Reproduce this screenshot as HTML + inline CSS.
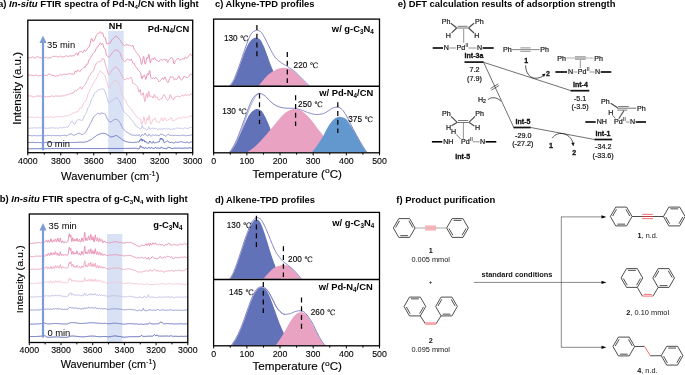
<!DOCTYPE html>
<html lang="en">
<head>
<meta charset="utf-8">
<title>Figure: FTIR spectra, TPD profiles, DFT results and product purification</title>
<style>
html,body{margin:0;padding:0;background:#fff;}
body{width:685px;height:375px;overflow:hidden;}
svg{display:block;font-family:'Liberation Sans', 'Noto Serif CJK SC', sans-serif;}
</style>
</head>
<body>
<svg width="685" height="375" viewBox="0 0 685 375">
<defs>
<clipPath id="clipA"><rect x="27.8" y="20.2" width="164.90" height="132.50"/></clipPath>
<clipPath id="clipB"><rect x="29.3" y="214.0" width="158.50" height="128.50"/></clipPath>
</defs>
<rect x="0" y="0" width="685" height="375" fill="#fff"/>
<rect x="108.2" y="30.9" width="15.50" height="121.30" fill="#d9e2f4"/>
<g clip-path="url(#clipA)">
<path d="M27.80,148.81 L28.30,148.81 L28.80,148.81 L29.30,148.79 L29.80,148.75 L30.30,148.71 L30.80,148.71 L31.30,148.71 L31.80,148.71 L32.30,148.70 L32.80,148.69 L33.30,148.71 L33.80,148.74 L34.30,148.74 L34.80,148.73 L35.30,148.71 L35.80,148.73 L36.30,148.75 L36.80,148.73 L37.30,148.66 L37.80,148.59 L38.30,148.66 L38.80,148.74 L39.30,148.75 L39.80,148.71 L40.30,148.66 L40.80,148.67 L41.30,148.69 L41.80,148.68 L42.30,148.66 L42.80,148.64 L43.30,148.63 L43.80,148.62 L44.30,148.62 L44.80,148.64 L45.30,148.66 L45.80,148.67 L46.30,148.68 L46.80,148.67 L47.30,148.64 L47.80,148.62 L48.30,148.62 L48.80,148.62 L49.30,148.63 L49.80,148.65 L50.30,148.67 L50.80,148.63 L51.30,148.59 L51.80,148.56 L52.30,148.53 L52.80,148.51 L53.30,148.56 L53.80,148.60 L54.30,148.61 L54.80,148.59 L55.30,148.56 L55.80,148.54 L56.30,148.51 L56.80,148.51 L57.30,148.54 L57.80,148.56 L58.30,148.57 L58.80,148.58 L59.30,148.58 L59.80,148.56 L60.30,148.55 L60.80,148.54 L61.30,148.53 L61.80,148.55 L62.30,148.59 L62.80,148.62 L63.30,148.64 L63.80,148.66 L64.30,148.66 L64.80,148.62 L65.30,148.59 L65.80,148.58 L66.30,148.56 L66.80,148.56 L67.30,148.58 L67.80,148.60 L68.30,148.60 L68.80,148.59 L69.30,148.58 L69.80,148.54 L70.30,148.51 L70.80,148.53 L71.30,148.56 L71.80,148.59 L72.30,148.61 L72.80,148.63 L73.30,148.60 L73.80,148.58 L74.30,148.56 L74.80,148.55 L75.30,148.53 L75.80,148.56 L76.30,148.59 L76.80,148.60 L77.30,148.60 L77.80,148.60 L78.30,148.62 L78.80,148.65 L79.30,148.63 L79.80,148.58 L80.30,148.52 L80.80,148.54 L81.30,148.55 L81.80,148.55 L82.30,148.54 L82.80,148.53 L83.30,148.51 L83.80,148.48 L84.30,148.48 L84.80,148.52 L85.30,148.56 L85.80,148.56 L86.30,148.56 L86.80,148.54 L87.30,148.50 L87.80,148.47 L88.30,148.52 L88.80,148.57 L89.30,148.59 L89.80,148.57 L90.30,148.56 L90.80,148.55 L91.30,148.56 L91.80,148.57 L92.30,148.58 L92.80,148.58 L93.30,148.61 L93.80,148.64 L94.30,148.62 L94.80,148.55 L95.30,148.49 L95.80,148.53 L96.30,148.57 L96.80,148.58 L97.30,148.57 L97.80,148.58 L98.30,148.52 L98.80,148.47 L99.30,148.47 L99.80,148.53 L100.30,148.58 L100.80,148.57 L101.30,148.56 L101.80,148.56 L102.30,148.59 L102.80,148.61 L103.30,148.58 L103.80,148.55 L104.30,148.54 L104.80,148.53 L105.30,148.52 L105.80,148.51 L106.30,148.50 L106.80,148.48 L107.30,148.43 L107.80,148.39 L108.30,148.43 L108.80,148.47 L109.30,148.49 L109.80,148.48 L110.30,148.46 L110.80,148.48 L111.30,148.50 L111.80,148.49 L112.30,148.47 L112.80,148.44 L113.30,148.48 L113.80,148.51 L114.30,148.53 L114.80,148.51 L115.30,148.50 L115.80,148.48 L116.30,148.46 L116.80,148.46 L117.30,148.48 L117.80,148.49 L118.30,148.51 L118.80,148.52 L119.30,148.53 L119.80,148.54 L120.30,148.55 L120.80,148.47 L121.30,148.39 L121.80,148.37 L122.30,148.43 L122.80,148.48 L123.30,148.47 L123.80,148.46 L124.30,148.44 L124.80,148.43 L125.30,148.41 L125.80,148.39 L126.30,148.36 L126.80,148.38 L127.30,148.43 L127.80,148.48 L128.30,148.41 L128.80,148.34 L129.30,148.32 L129.80,148.35 L130.30,148.38 L130.80,148.39 L131.30,148.40 L131.80,148.38 L132.30,148.32 L132.80,148.25 L133.30,148.29 L133.80,148.32 L134.30,148.33 L134.80,148.31 L135.30,148.28 L135.80,148.31 L136.30,148.34 L136.80,148.37 L137.30,148.58 L137.80,148.75 L138.30,148.83 L138.80,148.93 L139.30,148.70 L139.80,147.72 L140.30,145.74 L140.80,146.15 L141.30,147.09 L141.80,146.72 L142.30,147.66 L142.80,147.94 L143.30,147.46 L143.80,148.22 L144.30,148.54 L144.80,147.80 L145.30,147.54 L145.80,148.07 L146.30,148.14 L146.80,148.17 L147.30,148.35 L147.80,148.48 L148.30,148.02 L148.80,147.30 L149.30,147.63 L149.80,148.25 L150.30,148.38 L150.80,148.19 L151.30,147.58 L151.80,147.30 L152.30,148.01 L152.80,148.51 L153.30,148.53 L153.80,148.50 L154.30,148.40 L154.80,147.96 L155.30,147.34 L155.80,147.62 L156.30,148.14 L156.80,148.18 L157.30,148.03 L157.80,147.88 L158.30,147.99 L158.80,148.09 L159.30,148.26 L159.80,148.46 L160.30,148.37 L160.80,147.43 L161.30,147.35 L161.80,147.86 L162.30,147.89 L162.80,147.71 L163.30,148.09 L163.80,148.47 L164.30,148.59 L164.80,148.45 L165.30,148.34 L165.80,148.57 L166.30,148.80 L166.80,148.77 L167.30,148.42 L167.80,147.75 L168.30,147.03 L168.80,147.04 L169.30,147.59 L169.80,147.73 L170.30,147.91 L170.80,148.10 L171.30,148.30 L171.80,148.44 L172.30,148.54 L172.80,148.64 L173.30,148.41 L173.80,148.18 L174.30,148.07 L174.80,148.10 L175.30,148.11 L175.80,148.19 L176.30,148.27 L176.80,148.26 L177.30,148.15 L177.80,148.03 L178.30,148.07 L178.80,148.11 L179.30,148.13 L179.80,148.13 L180.30,148.14 L180.80,148.18 L181.30,148.23 L181.80,148.29 L182.30,148.32 L182.80,148.35 L183.30,148.24 L183.80,148.13 L184.30,148.09 L184.80,148.12 L185.30,148.17 L185.80,148.11 L186.30,148.04 L186.80,148.05 L187.30,148.14 L187.80,148.23 L188.30,148.08 L188.80,147.91 L189.30,147.81 L189.80,147.83 L190.30,147.85 L190.80,147.99 L191.30,148.12 L191.80,148.12 L192.30,148.01" fill="none" stroke="#4e5db3" stroke-width="0.95" stroke-linejoin="round" stroke-linecap="round" />
<path d="M27.80,142.51 L28.30,142.49 L28.80,142.47 L29.30,142.48 L29.80,142.50 L30.30,142.53 L30.80,142.49 L31.30,142.45 L31.80,142.41 L32.30,142.39 L32.80,142.36 L33.30,142.36 L33.80,142.38 L34.30,142.43 L34.80,142.52 L35.30,142.62 L35.80,142.57 L36.30,142.53 L36.80,142.50 L37.30,142.47 L37.80,142.45 L38.30,142.51 L38.80,142.58 L39.30,142.59 L39.80,142.55 L40.30,142.50 L40.80,142.61 L41.30,142.73 L41.80,142.72 L42.30,142.58 L42.80,142.44 L43.30,142.51 L43.80,142.55 L44.30,142.56 L44.80,142.53 L45.30,142.50 L45.80,142.38 L46.30,142.27 L46.80,142.23 L47.30,142.32 L47.80,142.41 L48.30,142.46 L48.80,142.51 L49.30,142.54 L49.80,142.54 L50.30,142.54 L50.80,142.52 L51.30,142.51 L51.80,142.51 L52.30,142.53 L52.80,142.55 L53.30,142.51 L53.80,142.49 L54.30,142.49 L54.80,142.51 L55.30,142.53 L55.80,142.52 L56.30,142.52 L56.80,142.54 L57.30,142.56 L57.80,142.58 L58.30,142.52 L58.80,142.45 L59.30,142.45 L59.80,142.51 L60.30,142.57 L60.80,142.53 L61.30,142.50 L61.80,142.48 L62.30,142.48 L62.80,142.48 L63.30,142.55 L63.80,142.62 L64.30,142.66 L64.80,142.70 L65.30,142.75 L65.80,142.71 L66.30,142.67 L66.80,142.62 L67.30,142.56 L67.80,142.50 L68.30,142.55 L68.80,142.60 L69.30,142.60 L69.80,142.55 L70.30,142.51 L70.80,142.52 L71.30,142.52 L71.80,142.53 L72.30,142.53 L72.80,142.53 L73.30,142.43 L73.80,142.33 L74.30,142.33 L74.80,142.43 L75.30,142.52 L75.80,142.47 L76.30,142.41 L76.80,142.38 L77.30,142.38 L77.80,142.37 L78.30,142.33 L78.80,142.28 L79.30,142.24 L79.80,142.21 L80.30,142.18 L80.80,142.18 L81.30,142.18 L81.80,142.20 L82.30,142.24 L82.80,142.27 L83.30,142.27 L83.80,142.25 L84.30,142.22 L84.80,142.07 L85.30,141.90 L85.80,141.86 L86.30,141.82 L86.80,141.70 L87.30,141.49 L87.80,141.25 L88.30,140.97 L88.80,140.66 L89.30,140.42 L89.80,140.26 L90.30,140.10 L90.80,139.83 L91.30,139.54 L91.80,139.18 L92.30,138.77 L92.80,138.35 L93.30,137.99 L93.80,137.63 L94.30,137.25 L94.80,136.87 L95.30,136.51 L95.80,136.11 L96.30,135.74 L96.80,135.39 L97.30,135.06 L97.80,134.76 L98.30,134.57 L98.80,134.39 L99.30,134.22 L99.80,134.04 L100.30,133.87 L100.80,133.69 L101.30,133.52 L101.80,133.40 L102.30,133.34 L102.80,133.32 L103.30,133.31 L103.80,133.37 L104.30,133.43 L104.80,133.49 L105.30,133.60 L105.80,133.89 L106.30,134.18 L106.80,134.46 L107.30,134.70 L107.80,135.02 L108.30,135.35 L108.80,135.71 L109.30,136.08 L109.80,136.44 L110.30,136.74 L110.80,136.89 L111.30,136.91 L111.80,136.87 L112.30,136.78 L112.80,136.63 L113.30,136.46 L113.80,136.30 L114.30,136.12 L114.80,135.92 L115.30,135.73 L115.80,135.58 L116.30,135.52 L116.80,135.66 L117.30,135.98 L117.80,136.36 L118.30,136.72 L118.80,137.07 L119.30,137.38 L119.80,137.71 L120.30,138.08 L120.80,138.48 L121.30,138.89 L121.80,139.37 L122.30,139.89 L122.80,140.37 L123.30,140.55 L123.80,140.66 L124.30,140.83 L124.80,141.12 L125.30,141.39 L125.80,141.54 L126.30,141.68 L126.80,141.78 L127.30,141.85 L127.80,141.90 L128.30,142.09 L128.80,142.27 L129.30,142.37 L129.80,142.39 L130.30,142.41 L130.80,142.38 L131.30,142.35 L131.80,142.39 L132.30,142.50 L132.80,142.60 L133.30,142.55 L133.80,142.50 L134.30,142.44 L134.80,142.35 L135.30,142.25 L135.80,142.28 L136.30,142.31 L136.80,142.33 L137.30,141.80 L137.80,141.87 L138.30,142.00 L138.80,142.17 L139.30,141.87 L139.80,140.02 L140.30,139.55 L140.80,140.42 L141.30,138.54 L141.80,140.01 L142.30,141.19 L142.80,139.36 L143.30,140.33 L143.80,140.75 L144.30,140.22 L144.80,142.02 L145.30,142.07 L145.80,141.23 L146.30,142.35 L146.80,142.91 L147.30,143.03 L147.80,143.11 L148.30,143.19 L148.80,143.11 L149.30,142.15 L149.80,140.98 L150.30,141.48 L150.80,142.38 L151.30,142.61 L151.80,142.86 L152.30,143.04 L152.80,142.32 L153.30,141.38 L153.80,142.34 L154.30,142.91 L154.80,142.86 L155.30,142.61 L155.80,142.62 L156.30,142.62 L156.80,142.48 L157.30,142.17 L157.80,141.87 L158.30,141.92 L158.80,142.03 L159.30,141.88 L159.80,140.57 L160.30,138.05 L160.80,139.18 L161.30,139.17 L161.80,138.00 L162.30,139.99 L162.80,139.55 L163.30,139.49 L163.80,141.86 L164.30,142.86 L164.80,142.65 L165.30,142.26 L165.80,142.00 L166.30,141.66 L166.80,141.18 L167.30,140.63 L167.80,141.02 L168.30,141.80 L168.80,142.17 L169.30,142.31 L169.80,142.46 L170.30,142.50 L170.80,142.36 L171.30,142.23 L171.80,142.25 L172.30,142.41 L172.80,142.56 L173.30,142.92 L173.80,143.27 L174.30,143.14 L174.80,142.52 L175.30,141.92 L175.80,142.12 L176.30,142.32 L176.80,142.38 L177.30,142.31 L177.80,142.24 L178.30,142.30 L178.80,142.33 L179.30,142.19 L179.80,141.90 L180.30,141.61 L180.80,141.64 L181.30,141.67 L181.80,141.76 L182.30,142.00 L182.80,142.24 L183.30,142.23 L183.80,142.22 L184.30,142.34 L184.80,142.59 L185.30,142.82 L185.80,142.51 L186.30,142.20 L186.80,142.09 L187.30,142.17 L187.80,142.24 L188.30,142.54 L188.80,142.87 L189.30,142.83 L189.80,142.41 L190.30,141.98 L190.80,141.98 L191.30,141.98 L191.80,142.05 L192.30,142.15" fill="none" stroke="#6470bc" stroke-width="0.95" stroke-linejoin="round" stroke-linecap="round" />
<path d="M27.80,135.58 L28.30,135.59 L28.80,135.60 L29.30,135.59 L29.80,135.56 L30.30,135.55 L30.80,135.61 L31.30,135.67 L31.80,135.70 L32.30,135.70 L32.80,135.71 L33.30,135.67 L33.80,135.61 L34.30,135.59 L34.80,135.58 L35.30,135.58 L35.80,135.71 L36.30,135.83 L36.80,135.84 L37.30,135.74 L37.80,135.63 L38.30,135.68 L38.80,135.73 L39.30,135.74 L39.80,135.70 L40.30,135.67 L40.80,135.63 L41.30,135.59 L41.80,135.57 L42.30,135.57 L42.80,135.57 L43.30,135.63 L43.80,135.66 L44.30,135.67 L44.80,135.67 L45.30,135.66 L45.80,135.66 L46.30,135.66 L46.80,135.61 L47.30,135.51 L47.80,135.42 L48.30,135.45 L48.80,135.49 L49.30,135.52 L49.80,135.55 L50.30,135.58 L50.80,135.68 L51.30,135.77 L51.80,135.72 L52.30,135.52 L52.80,135.32 L53.30,135.47 L53.80,135.62 L54.30,135.66 L54.80,135.60 L55.30,135.55 L55.80,135.59 L56.30,135.63 L56.80,135.63 L57.30,135.58 L57.80,135.54 L58.30,135.59 L58.80,135.64 L59.30,135.69 L59.80,135.76 L60.30,135.82 L60.80,135.72 L61.30,135.63 L61.80,135.56 L62.30,135.53 L62.80,135.50 L63.30,135.46 L63.80,135.43 L64.30,135.42 L64.80,135.37 L65.30,135.33 L65.80,135.41 L66.30,135.68 L66.80,135.75 L67.30,135.53 L67.80,135.20 L68.30,134.87 L68.80,134.49 L69.30,134.20 L69.80,134.10 L70.30,134.08 L70.80,133.97 L71.30,133.90 L71.80,133.97 L72.30,134.38 L72.80,134.96 L73.30,135.27 L73.80,135.39 L74.30,135.19 L74.80,134.87 L75.30,134.50 L75.80,134.49 L76.30,134.41 L76.80,134.12 L77.30,133.67 L77.80,133.36 L78.30,133.23 L78.80,133.20 L79.30,133.23 L79.80,133.41 L80.30,133.70 L80.80,134.00 L81.30,134.30 L81.80,134.55 L82.30,134.57 L82.80,134.39 L83.30,134.14 L83.80,133.79 L84.30,133.37 L84.80,132.92 L85.30,132.53 L85.80,131.85 L86.30,131.13 L86.80,130.32 L87.30,129.33 L87.80,128.19 L88.30,127.46 L88.80,126.77 L89.30,125.85 L89.80,124.68 L90.30,123.51 L90.80,122.73 L91.30,121.87 L91.80,120.88 L92.30,119.70 L92.80,118.51 L93.30,117.58 L93.80,116.74 L94.30,116.14 L94.80,115.71 L95.30,115.41 L95.80,114.99 L96.30,114.61 L96.80,114.18 L97.30,113.71 L97.80,113.21 L98.30,113.31 L98.80,113.53 L99.30,113.83 L99.80,114.02 L100.30,114.10 L100.80,113.44 L101.30,112.81 L101.80,112.65 L102.30,113.00 L102.80,113.54 L103.30,113.41 L103.80,113.30 L104.30,113.41 L104.80,113.90 L105.30,114.50 L105.80,115.34 L106.30,116.50 L106.80,117.67 L107.30,118.77 L107.80,119.62 L108.30,120.36 L108.80,121.06 L109.30,121.59 L109.80,121.91 L110.30,122.07 L110.80,122.00 L111.30,121.70 L111.80,121.31 L112.30,120.92 L112.80,120.58 L113.30,120.23 L113.80,119.88 L114.30,119.60 L114.80,119.44 L115.30,119.32 L115.80,119.28 L116.30,119.34 L116.80,119.46 L117.30,119.64 L117.80,119.95 L118.30,120.55 L118.80,121.17 L119.30,121.79 L119.80,122.53 L120.30,123.41 L120.80,124.39 L121.30,125.43 L121.80,126.47 L122.30,127.46 L122.80,128.36 L123.30,129.01 L123.80,129.51 L124.30,129.97 L124.80,130.44 L125.30,130.88 L125.80,131.38 L126.30,131.83 L126.80,132.14 L127.30,132.35 L127.80,132.61 L128.30,132.98 L128.80,133.32 L129.30,133.66 L129.80,134.01 L130.30,134.32 L130.80,134.53 L131.30,134.78 L131.80,134.98 L132.30,135.04 L132.80,135.05 L133.30,135.09 L133.80,135.12 L134.30,135.18 L134.80,135.28 L135.30,135.38 L135.80,135.28 L136.30,135.17 L136.80,135.19 L137.30,135.21 L137.80,135.59 L138.30,135.41 L138.80,134.99 L139.30,134.63 L139.80,135.39 L140.30,136.64 L140.80,136.54 L141.30,136.14 L141.80,135.11 L142.30,134.17 L142.80,134.70 L143.30,135.27 L143.80,135.22 L144.30,134.70 L144.80,133.61 L145.30,133.12 L145.80,134.35 L146.30,135.24 L146.80,135.67 L147.30,135.87 L147.80,136.02 L148.30,135.22 L148.80,134.20 L149.30,134.47 L149.80,135.35 L150.30,135.78 L150.80,135.82 L151.30,135.86 L151.80,135.62 L152.30,135.14 L152.80,134.67 L153.30,135.06 L153.80,135.45 L154.30,135.57 L154.80,135.19 L155.30,134.80 L155.80,134.88 L156.30,135.24 L156.80,135.32 L157.30,135.32 L157.80,135.30 L158.30,135.50 L158.80,135.71 L159.30,135.64 L159.80,135.20 L160.30,134.36 L160.80,133.89 L161.30,134.26 L161.80,134.66 L162.30,134.00 L162.80,134.42 L163.30,135.24 L163.80,135.36 L164.30,135.43 L164.80,135.84 L165.30,136.24 L165.80,135.99 L166.30,135.73 L166.80,135.44 L167.30,135.08 L167.80,134.46 L168.30,134.27 L168.80,134.67 L169.30,135.28 L169.80,135.33 L170.30,135.29 L170.80,135.40 L171.30,135.51 L171.80,135.48 L172.30,135.31 L172.80,135.15 L173.30,135.37 L173.80,135.60 L174.30,135.61 L174.80,135.41 L175.30,135.24 L175.80,135.38 L176.30,135.52 L176.80,135.55 L177.30,135.48 L177.80,135.41 L178.30,135.46 L178.80,135.47 L179.30,135.52 L179.80,135.64 L180.30,135.76 L180.80,135.63 L181.30,135.49 L181.80,135.37 L182.30,135.31 L182.80,135.26 L183.30,135.19 L183.80,135.11 L184.30,135.20 L184.80,135.47 L185.30,135.73 L185.80,135.70 L186.30,135.68 L186.80,135.62 L187.30,135.53 L187.80,135.43 L188.30,135.51 L188.80,135.56 L189.30,135.48 L189.80,135.30 L190.30,135.13 L190.80,135.08 L191.30,135.04 L191.80,135.01 L192.30,135.01" fill="none" stroke="#8f94cf" stroke-width="0.95" stroke-linejoin="round" stroke-linecap="round" />
<path d="M27.80,128.13 L28.30,128.16 L28.80,128.18 L29.30,128.18 L29.80,128.15 L30.30,128.14 L30.80,128.11 L31.30,128.08 L31.80,128.08 L32.30,128.10 L32.80,128.13 L33.30,127.96 L33.80,127.79 L34.30,127.74 L34.80,127.80 L35.30,127.86 L35.80,127.95 L36.30,128.03 L36.80,128.03 L37.30,127.94 L37.80,127.84 L38.30,127.80 L38.80,127.77 L39.30,127.75 L39.80,127.75 L40.30,127.77 L40.80,127.80 L41.30,127.84 L41.80,127.90 L42.30,127.97 L42.80,128.04 L43.30,127.99 L43.80,127.93 L44.30,127.95 L44.80,128.05 L45.30,128.15 L45.80,128.26 L46.30,128.38 L46.80,128.36 L47.30,128.20 L47.80,128.03 L48.30,128.12 L48.80,128.21 L49.30,128.20 L49.80,128.11 L50.30,128.01 L50.80,127.91 L51.30,127.81 L51.80,127.79 L52.30,127.86 L52.80,127.92 L53.30,127.87 L53.80,127.82 L54.30,127.89 L54.80,128.05 L55.30,128.21 L55.80,128.09 L56.30,127.96 L56.80,128.00 L57.30,128.16 L57.80,128.30 L58.30,128.18 L58.80,128.07 L59.30,127.88 L59.80,127.61 L60.30,127.35 L60.80,127.53 L61.30,127.71 L61.80,127.81 L62.30,127.83 L62.80,127.85 L63.30,127.61 L63.80,127.39 L64.30,127.35 L64.80,127.47 L65.30,127.57 L65.80,127.31 L66.30,126.94 L66.80,126.87 L67.30,127.18 L67.80,127.38 L68.30,126.67 L68.80,125.61 L69.30,124.70 L69.80,124.21 L70.30,123.79 L70.80,122.56 L71.30,121.55 L71.80,121.06 L72.30,121.22 L72.80,121.69 L73.30,122.97 L73.80,123.93 L74.30,124.30 L74.80,124.05 L75.30,123.63 L75.80,122.32 L76.30,121.17 L76.80,120.41 L77.30,120.11 L77.80,119.88 L78.30,119.53 L78.80,119.48 L79.30,119.62 L79.80,119.84 L80.30,119.96 L80.80,120.25 L81.30,120.45 L81.80,120.52 L82.30,120.34 L82.80,119.95 L83.30,118.58 L83.80,117.08 L84.30,115.95 L84.80,115.21 L85.30,114.55 L85.80,113.56 L86.30,112.53 L86.80,111.35 L87.30,109.86 L87.80,108.15 L88.30,107.37 L88.80,106.68 L89.30,105.74 L89.80,104.52 L90.30,103.35 L90.80,101.48 L91.30,99.61 L91.80,98.48 L92.30,97.98 L92.80,97.46 L93.30,96.06 L93.80,94.74 L94.30,93.65 L94.80,92.81 L95.30,92.22 L95.80,92.15 L96.30,92.06 L96.80,91.66 L97.30,90.98 L97.80,90.25 L98.30,89.77 L98.80,89.46 L99.30,89.46 L99.80,89.55 L100.30,89.51 L100.80,89.23 L101.30,89.13 L101.80,88.94 L102.30,88.71 L102.80,88.80 L103.30,88.97 L103.80,89.34 L104.30,90.00 L104.80,90.97 L105.30,92.13 L105.80,93.87 L106.30,95.54 L106.80,97.17 L107.30,98.84 L107.80,100.64 L108.30,102.23 L108.80,102.91 L109.30,102.79 L109.80,102.39 L110.30,101.86 L110.80,101.42 L111.30,101.01 L111.80,100.59 L112.30,100.17 L112.80,99.71 L113.30,99.54 L113.80,99.37 L114.30,99.01 L114.80,98.40 L115.30,97.87 L115.80,97.72 L116.30,97.71 L116.80,97.88 L117.30,98.24 L117.80,98.78 L118.30,99.59 L118.80,100.43 L119.30,101.13 L119.80,101.87 L120.30,102.78 L120.80,104.12 L121.30,105.52 L121.80,106.84 L122.30,108.08 L122.80,109.22 L123.30,110.30 L123.80,111.18 L124.30,112.10 L124.80,112.72 L125.30,113.29 L125.80,113.70 L126.30,114.06 L126.80,114.46 L127.30,114.94 L127.80,115.52 L128.30,116.03 L128.80,116.52 L129.30,117.09 L129.80,117.76 L130.30,118.41 L130.80,118.85 L131.30,119.40 L131.80,120.08 L132.30,120.71 L132.80,121.30 L133.30,122.03 L133.80,122.74 L134.30,123.41 L134.80,124.08 L135.30,124.73 L135.80,125.58 L136.30,126.41 L136.80,126.90 L137.30,127.10 L137.80,127.09 L138.30,127.55 L138.80,127.92 L139.30,128.29 L139.80,128.67 L140.30,129.04 L140.80,128.65 L141.30,128.13 L141.80,126.89 L142.30,125.58 L142.80,127.05 L143.30,128.20 L143.80,128.38 L144.30,128.49 L144.80,128.66 L145.30,128.88 L145.80,129.33 L146.30,129.78 L146.80,129.86 L147.30,129.59 L147.80,129.25 L148.30,128.51 L148.80,126.71 L149.30,127.77 L149.80,129.14 L150.30,129.16 L150.80,128.83 L151.30,128.49 L151.80,128.27 L152.30,128.22 L152.80,128.16 L153.30,128.60 L153.80,128.99 L154.30,128.85 L154.80,128.20 L155.30,128.23 L155.80,128.53 L156.30,128.59 L156.80,128.77 L157.30,129.24 L157.80,129.70 L158.30,129.34 L158.80,128.89 L159.30,128.84 L159.80,129.17 L160.30,129.29 L160.80,128.86 L161.30,128.93 L161.80,129.19 L162.30,129.02 L162.80,128.67 L163.30,128.59 L163.80,128.50 L164.30,128.60 L164.80,128.87 L165.30,129.17 L165.80,128.87 L166.30,128.57 L166.80,128.58 L167.30,128.88 L167.80,129.19 L168.30,128.87 L168.80,128.62 L169.30,128.68 L169.80,129.06 L170.30,129.44 L170.80,129.40 L171.30,129.35 L171.80,129.29 L172.30,129.17 L172.80,129.05 L173.30,128.93 L173.80,128.82 L174.30,128.83 L174.80,128.97 L175.30,129.07 L175.80,128.63 L176.30,128.18 L176.80,128.03 L177.30,128.17 L177.80,128.31 L178.30,128.17 L178.80,128.15 L179.30,128.27 L179.80,128.48 L180.30,128.68 L180.80,128.42 L181.30,128.15 L181.80,128.27 L182.30,128.69 L182.80,129.11 L183.30,128.75 L183.80,128.40 L184.30,128.13 L184.80,127.95 L185.30,127.78 L185.80,128.13 L186.30,128.49 L186.80,128.66 L187.30,128.66 L187.80,128.66 L188.30,128.33 L188.80,127.99 L189.30,127.73 L189.80,127.57 L190.30,127.40 L190.80,127.48 L191.30,127.56 L191.80,127.52 L192.30,127.36" fill="none" stroke="#c0c0e7" stroke-width="0.95" stroke-linejoin="round" stroke-linecap="round" />
<path d="M27.80,117.63 L28.30,117.42 L28.80,117.22 L29.30,117.15 L29.80,117.23 L30.30,117.30 L30.80,117.27 L31.30,117.23 L31.80,117.21 L32.30,117.19 L32.80,117.17 L33.30,117.34 L33.80,117.52 L34.30,117.58 L34.80,117.54 L35.30,117.50 L35.80,117.37 L36.30,117.24 L36.80,117.16 L37.30,117.15 L37.80,117.13 L38.30,117.20 L38.80,117.27 L39.30,117.40 L39.80,117.59 L40.30,117.74 L40.80,117.57 L41.30,117.40 L41.80,117.29 L42.30,117.24 L42.80,117.18 L43.30,117.05 L43.80,117.00 L44.30,117.01 L44.80,117.06 L45.30,117.11 L45.80,117.20 L46.30,117.30 L46.80,117.24 L47.30,116.95 L47.80,116.66 L48.30,117.04 L48.80,117.41 L49.30,117.43 L49.80,117.10 L50.30,116.78 L50.80,116.83 L51.30,116.88 L51.80,117.04 L52.30,117.29 L52.80,117.54 L53.30,117.42 L53.80,117.27 L54.30,117.13 L54.80,117.05 L55.30,116.97 L55.80,116.84 L56.30,116.70 L56.80,116.54 L57.30,116.39 L57.80,116.26 L58.30,116.44 L58.80,116.63 L59.30,116.77 L59.80,116.87 L60.30,116.97 L60.80,116.70 L61.30,116.43 L61.80,116.41 L62.30,116.64 L62.80,116.86 L63.30,116.51 L63.80,116.16 L64.30,115.99 L64.80,115.98 L65.30,115.97 L65.80,116.06 L66.30,116.14 L66.80,116.12 L67.30,115.96 L67.80,115.76 L68.30,115.69 L68.80,115.51 L69.30,115.10 L69.80,114.80 L70.30,114.67 L70.80,114.56 L71.30,114.37 L71.80,114.11 L72.30,113.34 L72.80,112.91 L73.30,112.86 L73.80,112.80 L74.30,112.66 L74.80,112.38 L75.30,112.25 L75.80,112.09 L76.30,111.83 L76.80,111.78 L77.30,111.93 L77.80,111.90 L78.30,111.13 L78.80,110.33 L79.30,109.46 L79.80,108.48 L80.30,107.33 L80.80,107.66 L81.30,108.26 L81.80,107.99 L82.30,106.50 L82.80,104.84 L83.30,103.90 L83.80,102.90 L84.30,102.26 L84.80,101.93 L85.30,101.83 L85.80,101.14 L86.30,100.21 L86.80,98.79 L87.30,96.95 L87.80,94.85 L88.30,93.31 L88.80,92.09 L89.30,91.04 L89.80,90.01 L90.30,88.93 L90.80,88.14 L91.30,87.50 L91.80,86.79 L92.30,85.70 L92.80,84.45 L93.30,83.40 L93.80,82.34 L94.30,81.34 L94.80,80.37 L95.30,79.69 L95.80,79.36 L96.30,78.93 L96.80,77.95 L97.30,76.48 L97.80,74.74 L98.30,73.83 L98.80,73.26 L99.30,72.85 L99.80,72.02 L100.30,70.92 L100.80,71.26 L101.30,72.31 L101.80,72.66 L102.30,72.43 L102.80,72.89 L103.30,73.75 L103.80,74.48 L104.30,74.88 L104.80,75.32 L105.30,76.50 L105.80,78.43 L106.30,80.40 L106.80,81.79 L107.30,82.99 L107.80,84.87 L108.30,86.88 L108.80,87.67 L109.30,87.49 L109.80,86.85 L110.30,86.08 L110.80,85.48 L111.30,84.89 L111.80,84.21 L112.30,83.49 L112.80,82.78 L113.30,82.15 L113.80,81.64 L114.30,81.16 L114.80,80.82 L115.30,80.59 L115.80,80.44 L116.30,80.54 L116.80,80.87 L117.30,81.37 L117.80,81.98 L118.30,82.50 L118.80,83.14 L119.30,84.38 L119.80,86.10 L120.30,87.96 L120.80,89.52 L121.30,90.99 L121.80,92.76 L122.30,94.70 L122.80,96.56 L123.30,97.79 L123.80,98.69 L124.30,98.92 L124.80,99.34 L125.30,99.68 L125.80,100.95 L126.30,102.12 L126.80,103.18 L127.30,104.25 L127.80,105.61 L128.30,106.07 L128.80,106.44 L129.30,106.80 L129.80,107.22 L130.30,107.54 L130.80,108.21 L131.30,109.12 L131.80,110.14 L132.30,110.89 L132.80,111.57 L133.30,112.32 L133.80,113.10 L134.30,113.77 L134.80,114.26 L135.30,114.68 L135.80,115.45 L136.30,116.20 L136.80,116.87 L137.30,117.54 L137.80,118.16 L138.30,118.41 L138.80,118.66 L139.30,118.92 L139.80,119.16 L140.30,119.28 L140.80,120.50 L141.30,123.12 L141.80,124.77 L142.30,123.23 L142.80,121.98 L143.30,119.52 L143.80,116.69 L144.30,118.09 L144.80,121.70 L145.30,124.28 L145.80,123.86 L146.30,121.35 L146.80,118.94 L147.30,117.90 L147.80,120.30 L148.30,120.04 L148.80,116.68 L149.30,115.34 L149.80,118.97 L150.30,122.75 L150.80,124.16 L151.30,123.77 L151.80,122.68 L152.30,120.90 L152.80,119.34 L153.30,119.76 L153.80,120.14 L154.30,119.48 L154.80,118.07 L155.30,117.94 L155.80,119.58 L156.30,121.36 L156.80,121.91 L157.30,121.69 L157.80,121.64 L158.30,122.52 L158.80,123.04 L159.30,122.48 L159.80,121.34 L160.30,120.53 L160.80,119.43 L161.30,118.05 L161.80,117.82 L162.30,119.35 L162.80,121.02 L163.30,120.53 L163.80,119.26 L164.30,117.98 L164.80,117.71 L165.30,118.12 L165.80,119.51 L166.30,120.41 L166.80,120.59 L167.30,120.38 L167.80,119.96 L168.30,119.72 L168.80,119.43 L169.30,119.42 L169.80,119.37 L170.30,118.92 L170.80,117.76 L171.30,117.48 L171.80,118.48 L172.30,119.87 L172.80,120.95 L173.30,120.55 L173.80,120.65 L174.30,120.82 L174.80,120.36 L175.30,119.81 L175.80,119.30 L176.30,119.11 L176.80,118.98 L177.30,118.73 L177.80,118.29 L178.30,117.69 L178.80,117.75 L179.30,118.04 L179.80,118.14 L180.30,118.01 L180.80,117.95 L181.30,117.86 L181.80,117.70 L182.30,117.36 L182.80,116.88 L183.30,116.94 L183.80,117.45 L184.30,117.74 L184.80,117.47 L185.30,117.02 L185.80,117.27 L186.30,117.50 L186.80,117.49 L187.30,117.24 L187.80,116.98 L188.30,116.97 L188.80,116.89 L189.30,116.61 L189.80,116.21 L190.30,115.82 L190.80,116.20 L191.30,116.59 L191.80,116.27 L192.30,115.34" fill="none" stroke="#f6c4d5" stroke-width="0.95" stroke-linejoin="round" stroke-linecap="round" />
<path d="M27.80,95.94 L28.30,95.99 L28.80,96.04 L29.30,96.01 L29.80,95.92 L30.30,95.93 L30.80,96.01 L31.30,96.09 L31.80,96.29 L32.30,96.60 L32.80,96.92 L33.30,97.03 L33.80,96.95 L34.30,96.84 L34.80,96.71 L35.30,96.59 L35.80,96.27 L36.30,95.96 L36.80,95.85 L37.30,96.01 L37.80,96.17 L38.30,96.17 L38.80,96.16 L39.30,96.10 L39.80,95.97 L40.30,95.84 L40.80,96.16 L41.30,96.48 L41.80,96.60 L42.30,96.52 L42.80,96.45 L43.30,96.40 L43.80,96.32 L44.30,96.39 L44.80,96.62 L45.30,96.85 L45.80,96.75 L46.30,96.65 L46.80,96.60 L47.30,96.61 L47.80,96.61 L48.30,96.65 L48.80,96.68 L49.30,96.66 L49.80,96.59 L50.30,96.51 L50.80,96.24 L51.30,95.97 L51.80,95.88 L52.30,95.98 L52.80,96.07 L53.30,96.23 L53.80,96.39 L54.30,96.35 L54.80,96.11 L55.30,95.87 L55.80,95.96 L56.30,96.04 L56.80,96.10 L57.30,96.10 L57.80,96.08 L58.30,96.15 L58.80,96.22 L59.30,96.22 L59.80,96.14 L60.30,96.05 L60.80,96.04 L61.30,96.01 L61.80,95.94 L62.30,95.83 L62.80,95.70 L63.30,95.86 L63.80,95.96 L64.30,95.82 L64.80,95.59 L65.30,95.35 L65.80,95.07 L66.30,94.79 L66.80,94.64 L67.30,94.70 L67.80,94.84 L68.30,94.63 L68.80,94.28 L69.30,93.77 L69.80,93.55 L70.30,93.56 L70.80,93.77 L71.30,93.86 L71.80,93.69 L72.30,93.49 L72.80,92.66 L73.30,92.73 L73.80,92.78 L74.30,92.19 L74.80,90.95 L75.30,89.91 L75.80,90.41 L76.30,90.79 L76.80,90.62 L77.30,89.97 L77.80,89.38 L78.30,89.12 L78.80,88.85 L79.30,88.39 L79.80,87.68 L80.30,86.78 L80.80,87.68 L81.30,88.96 L81.80,89.29 L82.30,88.23 L82.80,86.98 L83.30,86.70 L83.80,86.36 L84.30,85.72 L84.80,84.95 L85.30,84.53 L85.80,83.52 L86.30,82.27 L86.80,81.21 L87.30,80.39 L87.80,79.56 L88.30,77.78 L88.80,76.40 L89.30,75.71 L89.80,75.50 L90.30,75.13 L90.80,73.71 L91.30,72.46 L91.80,72.01 L92.30,71.95 L92.80,71.66 L93.30,70.80 L93.80,69.91 L94.30,68.55 L94.80,66.72 L95.30,65.26 L95.80,64.50 L96.30,63.58 L96.80,62.83 L97.30,62.34 L97.80,61.81 L98.30,61.52 L98.80,61.68 L99.30,62.01 L99.80,61.74 L100.30,61.10 L100.80,60.82 L101.30,60.71 L101.80,59.88 L102.30,58.54 L102.80,58.01 L103.30,58.76 L103.80,59.24 L104.30,59.94 L104.80,61.72 L105.30,64.09 L105.80,65.80 L106.30,67.36 L106.80,68.82 L107.30,70.75 L107.80,72.57 L108.30,74.05 L108.80,74.55 L109.30,74.29 L109.80,73.65 L110.30,72.87 L110.80,72.02 L111.30,71.24 L111.80,70.45 L112.30,69.71 L112.80,69.01 L113.30,68.55 L113.80,68.26 L114.30,67.93 L114.80,67.55 L115.30,67.24 L115.80,67.04 L116.30,67.01 L116.80,67.37 L117.30,68.11 L117.80,68.99 L118.30,69.32 L118.80,69.69 L119.30,70.28 L119.80,71.33 L120.30,72.55 L120.80,73.63 L121.30,74.69 L121.80,75.70 L122.30,76.59 L122.80,77.48 L123.30,78.33 L123.80,79.04 L124.30,79.68 L124.80,79.72 L125.30,79.66 L125.80,79.32 L126.30,78.91 L126.80,78.57 L127.30,78.43 L127.80,78.63 L128.30,78.84 L128.80,78.94 L129.30,78.63 L129.80,78.03 L130.30,77.49 L130.80,77.18 L131.30,77.24 L131.80,78.69 L132.30,81.14 L132.80,83.48 L133.30,83.52 L133.80,83.59 L134.30,83.79 L134.80,84.20 L135.30,84.72 L135.80,84.99 L136.30,85.27 L136.80,85.89 L137.30,86.41 L137.80,87.61 L138.30,89.77 L138.80,91.84 L139.30,91.97 L139.80,90.25 L140.30,89.39 L140.80,93.52 L141.30,95.19 L141.80,94.99 L142.30,95.02 L142.80,93.68 L143.30,92.64 L143.80,95.67 L144.30,99.37 L144.80,101.63 L145.30,100.38 L145.80,97.26 L146.30,93.81 L146.80,93.66 L147.30,96.97 L147.80,97.59 L148.30,92.80 L148.80,91.39 L149.30,94.06 L149.80,96.42 L150.30,96.51 L150.80,96.27 L151.30,96.33 L151.80,96.18 L152.30,96.67 L152.80,98.08 L153.30,97.54 L153.80,95.80 L154.30,94.39 L154.80,95.20 L155.30,97.30 L155.80,97.62 L156.30,97.23 L156.80,96.93 L157.30,97.19 L157.80,97.84 L158.30,99.51 L158.80,100.07 L159.30,99.97 L159.80,99.65 L160.30,99.22 L160.80,98.51 L161.30,98.40 L161.80,98.58 L162.30,98.05 L162.80,96.68 L163.30,95.35 L163.80,94.47 L164.30,94.93 L164.80,96.03 L165.30,96.80 L165.80,97.69 L166.30,98.67 L166.80,99.75 L167.30,100.31 L167.80,100.25 L168.30,99.81 L168.80,99.33 L169.30,98.13 L169.80,96.16 L170.30,94.60 L170.80,95.75 L171.30,97.31 L171.80,98.12 L172.30,98.32 L172.80,99.03 L173.30,100.00 L173.80,99.67 L174.30,98.23 L174.80,97.16 L175.30,97.02 L175.80,96.87 L176.30,96.62 L176.80,96.28 L177.30,96.04 L177.80,96.22 L178.30,96.46 L178.80,96.69 L179.30,96.76 L179.80,96.76 L180.30,96.70 L180.80,96.29 L181.30,95.76 L181.80,95.35 L182.30,95.28 L182.80,95.56 L183.30,95.72 L183.80,95.90 L184.30,95.65 L184.80,95.02 L185.30,94.31 L185.80,94.95 L186.30,95.57 L186.80,95.66 L187.30,95.21 L187.80,94.75 L188.30,94.91 L188.80,95.15 L189.30,95.10 L189.80,94.69 L190.30,94.27 L190.80,94.22 L191.30,94.16 L191.80,94.14 L192.30,94.11" fill="none" stroke="#eea5c0" stroke-width="0.95" stroke-linejoin="round" stroke-linecap="round" />
<path d="M27.80,75.27 L28.30,75.13 L28.80,74.98 L29.30,74.95 L29.80,75.03 L30.30,75.08 L30.80,75.20 L31.30,75.32 L31.80,75.41 L32.30,75.47 L32.80,75.52 L33.30,75.57 L33.80,75.66 L34.30,75.62 L34.80,75.46 L35.30,75.29 L35.80,75.10 L36.30,74.90 L36.80,75.06 L37.30,75.57 L37.80,76.08 L38.30,75.88 L38.80,75.68 L39.30,75.60 L39.80,75.62 L40.30,75.64 L40.80,75.61 L41.30,75.57 L41.80,75.43 L42.30,75.17 L42.80,74.90 L43.30,75.02 L43.80,75.13 L44.30,75.21 L44.80,75.29 L45.30,75.36 L45.80,75.47 L46.30,75.58 L46.80,75.52 L47.30,75.28 L47.80,75.04 L48.30,74.39 L48.80,73.75 L49.30,73.65 L49.80,74.11 L50.30,74.61 L50.80,74.78 L51.30,74.95 L51.80,75.15 L52.30,75.38 L52.80,75.61 L53.30,75.56 L53.80,75.49 L54.30,75.60 L54.80,75.94 L55.30,76.27 L55.80,76.08 L56.30,75.89 L56.80,75.79 L57.30,75.78 L57.80,75.76 L58.30,75.68 L58.80,75.61 L59.30,75.35 L59.80,74.92 L60.30,74.49 L60.80,74.79 L61.30,75.09 L61.80,75.16 L62.30,75.00 L62.80,74.84 L63.30,74.52 L63.80,74.22 L64.30,74.18 L64.80,74.35 L65.30,74.52 L65.80,74.45 L66.30,74.37 L66.80,74.23 L67.30,74.06 L67.80,73.90 L68.30,73.94 L68.80,73.82 L69.30,73.52 L69.80,73.55 L70.30,73.85 L70.80,74.04 L71.30,74.07 L71.80,73.97 L72.30,74.26 L72.80,73.84 L73.30,74.19 L73.80,74.51 L74.30,73.79 L74.80,72.15 L75.30,70.76 L75.80,71.50 L76.30,72.11 L76.80,71.89 L77.30,70.95 L77.80,70.12 L78.30,70.51 L78.80,70.89 L79.30,71.19 L79.80,71.37 L80.30,71.32 L80.80,70.33 L81.30,69.68 L81.80,69.46 L82.30,69.12 L82.80,68.55 L83.30,68.03 L83.80,67.43 L84.30,67.15 L84.80,67.08 L85.30,67.43 L85.80,66.11 L86.30,64.57 L86.80,63.95 L87.30,64.32 L87.80,64.17 L88.30,61.94 L88.80,60.17 L89.30,59.24 L89.80,58.89 L90.30,58.31 L90.80,57.26 L91.30,56.44 L91.80,55.82 L92.30,54.92 L92.80,53.74 L93.30,53.44 L93.80,53.13 L94.30,52.50 L94.80,51.54 L95.30,51.03 L95.80,49.72 L96.30,48.25 L96.80,47.45 L97.30,47.39 L97.80,47.02 L98.30,45.70 L98.80,44.96 L99.30,44.65 L99.80,43.85 L100.30,42.69 L100.80,43.44 L101.30,44.45 L101.80,44.51 L102.30,43.75 L102.80,43.74 L103.30,45.70 L103.80,47.60 L104.30,48.31 L104.80,48.54 L105.30,49.10 L105.80,51.74 L106.30,54.42 L106.80,55.94 L107.30,56.24 L107.80,56.52 L108.30,56.99 L108.80,57.16 L109.30,56.85 L109.80,56.14 L110.30,55.44 L110.80,54.82 L111.30,54.06 L111.80,53.30 L112.30,52.62 L112.80,52.06 L113.30,51.60 L113.80,51.14 L114.30,50.73 L114.80,50.43 L115.30,50.22 L115.80,50.11 L116.30,50.18 L116.80,50.23 L117.30,50.24 L117.80,50.37 L118.30,50.81 L118.80,51.27 L119.30,51.76 L119.80,52.48 L120.30,53.37 L120.80,54.97 L121.30,56.50 L121.80,57.75 L122.30,58.69 L122.80,59.63 L123.30,60.26 L123.80,60.73 L124.30,61.41 L124.80,61.33 L125.30,61.11 L125.80,60.74 L126.30,60.28 L126.80,59.70 L127.30,59.16 L127.80,59.04 L128.30,59.36 L128.80,59.57 L129.30,59.73 L129.80,60.04 L130.30,60.35 L130.80,59.48 L131.30,59.05 L131.80,59.97 L132.30,61.67 L132.80,63.34 L133.30,63.15 L133.80,63.02 L134.30,63.63 L134.80,64.94 L135.30,66.21 L135.80,66.76 L136.30,67.32 L136.80,68.10 L137.30,68.75 L137.80,69.79 L138.30,70.24 L138.80,70.67 L139.30,71.23 L139.80,71.90 L140.30,72.52 L140.80,73.92 L141.30,76.12 L141.80,78.82 L142.30,78.44 L142.80,76.09 L143.30,76.70 L143.80,76.02 L144.30,74.86 L144.80,75.92 L145.30,77.75 L145.80,79.56 L146.30,78.19 L146.80,76.00 L147.30,73.61 L147.80,73.45 L148.30,75.13 L148.80,74.12 L149.30,70.92 L149.80,70.58 L150.30,73.76 L150.80,77.38 L151.30,78.41 L151.80,78.54 L152.30,78.60 L152.80,78.50 L153.30,77.79 L153.80,77.95 L154.30,78.37 L154.80,78.56 L155.30,77.82 L155.80,77.14 L156.30,77.71 L156.80,78.46 L157.30,79.17 L157.80,79.74 L158.30,80.27 L158.80,81.36 L159.30,81.87 L159.80,81.33 L160.30,80.71 L160.80,80.32 L161.30,79.81 L161.80,78.81 L162.30,78.07 L162.80,78.00 L163.30,79.13 L163.80,79.46 L164.30,78.46 L164.80,77.10 L165.30,77.07 L165.80,78.74 L166.30,80.03 L166.80,80.85 L167.30,81.65 L167.80,82.59 L168.30,82.33 L168.80,80.88 L169.30,79.50 L169.80,78.29 L170.30,76.83 L170.80,76.64 L171.30,76.85 L171.80,77.12 L172.30,77.13 L172.80,76.86 L173.30,77.53 L173.80,78.69 L174.30,79.87 L174.80,79.68 L175.30,78.94 L175.80,78.82 L176.30,79.27 L176.80,79.32 L177.30,78.71 L177.80,77.88 L178.30,76.57 L178.80,75.72 L179.30,76.27 L179.80,77.77 L180.30,79.04 L180.80,79.52 L181.30,79.93 L181.80,80.01 L182.30,79.62 L182.80,79.04 L183.30,77.63 L183.80,76.53 L184.30,76.39 L184.80,76.83 L185.30,77.11 L185.80,77.24 L186.30,77.33 L186.80,77.40 L187.30,77.45 L187.80,77.49 L188.30,77.07 L188.80,76.48 L189.30,75.69 L189.80,74.84 L190.30,73.99 L190.80,74.24 L191.30,74.49 L191.80,74.36 L192.30,74.01" fill="none" stroke="#e891b4" stroke-width="0.95" stroke-linejoin="round" stroke-linecap="round" />
<path d="M27.80,58.66 L28.30,58.25 L28.80,57.83 L29.30,57.64 L29.80,57.67 L30.30,57.75 L30.80,57.65 L31.30,57.56 L31.80,57.37 L32.30,57.08 L32.80,56.80 L33.30,57.29 L33.80,57.64 L34.30,57.87 L34.80,57.99 L35.30,58.10 L35.80,57.68 L36.30,57.26 L36.80,56.91 L37.30,56.70 L37.80,56.49 L38.30,56.92 L38.80,57.35 L39.30,57.57 L39.80,57.58 L40.30,57.55 L40.80,57.70 L41.30,57.84 L41.80,57.89 L42.30,57.84 L42.80,57.80 L43.30,57.55 L43.80,57.39 L44.30,57.41 L44.80,57.61 L45.30,57.80 L45.80,57.47 L46.30,57.14 L46.80,57.27 L47.30,57.75 L47.80,58.22 L48.30,57.99 L48.80,57.75 L49.30,57.68 L49.80,57.78 L50.30,57.86 L50.80,57.69 L51.30,57.51 L51.80,57.22 L52.30,56.80 L52.80,56.38 L53.30,56.24 L53.80,56.26 L54.30,56.36 L54.80,56.39 L55.30,56.41 L55.80,56.35 L56.30,56.29 L56.80,56.51 L57.30,56.82 L57.80,57.06 L58.30,56.99 L58.80,56.93 L59.30,56.72 L59.80,56.38 L60.30,56.03 L60.80,56.41 L61.30,56.78 L61.80,56.94 L62.30,56.87 L62.80,56.80 L63.30,56.91 L63.80,56.99 L64.30,56.84 L64.80,56.54 L65.30,56.23 L65.80,55.97 L66.30,55.71 L66.80,55.77 L67.30,56.19 L67.80,56.65 L68.30,56.58 L68.80,56.34 L69.30,55.92 L69.80,55.83 L70.30,56.01 L70.80,56.05 L71.30,55.96 L71.80,55.88 L72.30,55.78 L72.80,55.80 L73.30,55.81 L73.80,55.79 L74.30,55.44 L74.80,54.86 L75.30,54.53 L75.80,53.80 L76.30,52.95 L76.80,53.09 L77.30,54.29 L77.80,55.41 L78.30,53.94 L78.80,52.45 L79.30,51.82 L79.80,52.00 L80.30,51.94 L80.80,51.38 L81.30,51.46 L81.80,52.02 L82.30,52.50 L82.80,52.75 L83.30,51.67 L83.80,50.51 L84.30,50.05 L84.80,50.50 L85.30,51.40 L85.80,50.89 L86.30,50.17 L86.80,49.45 L87.30,48.79 L87.80,47.97 L88.30,47.37 L88.80,47.23 L89.30,46.47 L89.80,44.82 L90.30,42.95 L90.80,40.66 L91.30,38.57 L91.80,38.55 L92.30,40.11 L92.80,41.40 L93.30,41.30 L93.80,41.15 L94.30,40.42 L94.80,39.08 L95.30,38.18 L95.80,36.84 L96.30,35.35 L96.80,34.37 L97.30,33.96 L97.80,33.59 L98.30,33.05 L98.80,33.09 L99.30,33.24 L99.80,32.59 L100.30,31.57 L100.80,32.47 L101.30,33.26 L101.80,33.35 L102.30,32.86 L102.80,33.12 L103.30,35.14 L103.80,37.04 L104.30,37.61 L104.80,37.50 L105.30,37.77 L105.80,40.14 L106.30,42.59 L106.80,44.09 L107.30,43.67 L107.80,44.04 L108.30,43.76 L108.80,43.18 L109.30,42.91 L109.80,43.07 L110.30,43.22 L110.80,42.02 L111.30,40.69 L111.80,39.74 L112.30,39.24 L112.80,38.87 L113.30,38.55 L113.80,38.25 L114.30,37.69 L114.80,36.94 L115.30,36.28 L115.80,36.01 L116.30,35.91 L116.80,36.25 L117.30,37.00 L117.80,37.86 L118.30,38.29 L118.80,38.72 L119.30,39.15 L119.80,39.73 L120.30,40.43 L120.80,41.39 L121.30,42.25 L121.80,42.98 L122.30,43.55 L122.80,44.09 L123.30,44.70 L123.80,45.22 L124.30,45.94 L124.80,45.46 L125.30,44.77 L125.80,44.83 L126.30,44.80 L126.80,44.69 L127.30,44.70 L127.80,45.14 L128.30,45.20 L128.80,45.17 L129.30,45.16 L129.80,45.39 L130.30,45.67 L130.80,45.79 L131.30,46.28 L131.80,46.42 L132.30,45.83 L132.80,45.19 L133.30,46.91 L133.80,48.68 L134.30,49.71 L134.80,50.16 L135.30,50.76 L135.80,51.54 L136.30,52.32 L136.80,53.08 L137.30,53.49 L137.80,54.08 L138.30,54.81 L138.80,55.45 L139.30,56.33 L139.80,57.41 L140.30,58.56 L140.80,61.21 L141.30,64.55 L141.80,64.07 L142.30,61.76 L142.80,59.53 L143.30,56.69 L143.80,56.39 L144.30,59.85 L144.80,63.17 L145.30,64.18 L145.80,62.75 L146.30,60.69 L146.80,57.83 L147.30,57.31 L147.80,58.36 L148.30,56.86 L148.80,54.26 L149.30,56.01 L149.80,60.53 L150.30,63.06 L150.80,61.44 L151.30,59.40 L151.80,58.63 L152.30,58.54 L152.80,59.43 L153.30,59.54 L153.80,58.77 L154.30,57.68 L154.80,57.50 L155.30,58.63 L155.80,59.85 L156.30,60.42 L156.80,60.47 L157.30,60.58 L157.80,61.10 L158.30,61.62 L158.80,61.70 L159.30,60.90 L159.80,60.20 L160.30,59.79 L160.80,59.87 L161.30,59.84 L161.80,60.07 L162.30,60.36 L162.80,60.16 L163.30,60.00 L163.80,59.41 L164.30,59.05 L164.80,59.38 L165.30,60.37 L165.80,59.95 L166.30,59.25 L166.80,59.79 L167.30,61.46 L167.80,62.55 L168.30,61.55 L168.80,60.25 L169.30,59.62 L169.80,59.23 L170.30,58.65 L170.80,57.64 L171.30,57.59 L171.80,57.87 L172.30,58.11 L172.80,58.34 L173.30,61.04 L173.80,63.60 L174.30,63.87 L174.80,62.55 L175.30,61.24 L175.80,60.51 L176.30,59.87 L176.80,59.27 L177.30,58.63 L177.80,58.01 L178.30,58.62 L178.80,59.54 L179.30,59.96 L179.80,59.74 L180.30,59.37 L180.80,59.48 L181.30,59.53 L181.80,59.47 L182.30,59.08 L182.80,58.72 L183.30,58.69 L183.80,59.02 L184.30,58.80 L184.80,57.88 L185.30,56.92 L185.80,57.42 L186.30,57.90 L186.80,58.02 L187.30,57.77 L187.80,57.51 L188.30,56.73 L188.80,55.94 L189.30,55.20 L189.80,54.53 L190.30,53.86 L190.80,54.58 L191.30,55.30 L191.80,55.50 L192.30,55.18" fill="none" stroke="#e78fb2" stroke-width="0.95" stroke-linejoin="round" stroke-linecap="round" />
</g>
<line x1="43.00" y1="150.30" x2="43.00" y2="41.00" stroke="#7d9bd9" stroke-width="2.2" />
<path d="M43.0,35.4 L46.5,43 L39.5,43 Z" fill="#7d9bd9"/>
<rect x="27.8" y="20.2" width="164.90" height="132.50" fill="none" stroke="#000" stroke-width="1.3"/>
<line x1="27.80" y1="152.70" x2="27.80" y2="155.40" stroke="#000" stroke-width="1.0" />
<line x1="44.29" y1="152.70" x2="44.29" y2="154.60" stroke="#000" stroke-width="1.0" />
<line x1="60.78" y1="152.70" x2="60.78" y2="155.40" stroke="#000" stroke-width="1.0" />
<line x1="77.27" y1="152.70" x2="77.27" y2="154.60" stroke="#000" stroke-width="1.0" />
<line x1="93.76" y1="152.70" x2="93.76" y2="155.40" stroke="#000" stroke-width="1.0" />
<line x1="110.25" y1="152.70" x2="110.25" y2="154.60" stroke="#000" stroke-width="1.0" />
<line x1="126.74" y1="152.70" x2="126.74" y2="155.40" stroke="#000" stroke-width="1.0" />
<line x1="143.23" y1="152.70" x2="143.23" y2="154.60" stroke="#000" stroke-width="1.0" />
<line x1="159.72" y1="152.70" x2="159.72" y2="155.40" stroke="#000" stroke-width="1.0" />
<line x1="176.21" y1="152.70" x2="176.21" y2="154.60" stroke="#000" stroke-width="1.0" />
<line x1="192.70" y1="152.70" x2="192.70" y2="155.40" stroke="#000" stroke-width="1.0" />
<text x="27.80" y="164.40" font-size="8.8" font-weight="normal" text-anchor="middle" fill="#000" stroke="#000" stroke-width="0.1">4000</text>
<text x="60.78" y="164.40" font-size="8.8" font-weight="normal" text-anchor="middle" fill="#000" stroke="#000" stroke-width="0.1">3800</text>
<text x="93.76" y="164.40" font-size="8.8" font-weight="normal" text-anchor="middle" fill="#000" stroke="#000" stroke-width="0.1">3600</text>
<text x="126.74" y="164.40" font-size="8.8" font-weight="normal" text-anchor="middle" fill="#000" stroke="#000" stroke-width="0.1">3400</text>
<text x="159.72" y="164.40" font-size="8.8" font-weight="normal" text-anchor="middle" fill="#000" stroke="#000" stroke-width="0.1">3200</text>
<text x="192.70" y="164.40" font-size="8.8" font-weight="normal" text-anchor="middle" fill="#000" stroke="#000" stroke-width="0.1">3000</text>
<text x="47.00" y="48.20" font-size="9.4" font-weight="normal" text-anchor="start" fill="#000" >35 min</text>
<text x="47.00" y="146.80" font-size="9.4" font-weight="normal" text-anchor="start" fill="#000" >0 min</text>
<text x="115.40" y="29.40" font-size="9.2" font-weight="bold" text-anchor="middle" fill="#000" >NH</text>
<text x="189.20" y="31.50" font-size="9.4" font-weight="bold" text-anchor="end" fill="#000" >Pd-N<tspan font-size="6.3" dy="1.7">4</tspan><tspan dy="-1.7">/CN</tspan></text>
<text x="61.00" y="180.30" font-size="10.9" font-weight="normal" text-anchor="start" fill="#000" textLength="98.5" lengthAdjust="spacingAndGlyphs" stroke="#000" stroke-width="0.12">Wavenumber (cm<tspan font-size="7.2" dy="-4.2">-1</tspan><tspan dy="4.2">)</tspan></text>
<text transform="translate(20.8,88.4) rotate(-90)" font-size="10.6" text-anchor="middle" fill="#000" stroke="#000" stroke-width="0.12" textLength="72.8" lengthAdjust="spacingAndGlyphs">Intensity (a.u.)</text>
<text x="-2.00" y="7.00" font-size="9" font-weight="bold" text-anchor="start" fill="#000" textLength="200.8" lengthAdjust="spacingAndGlyphs">a) <tspan font-style="italic">In-situ</tspan> FTIR spectra of Pd-N<tspan font-size="5.8" dy="1.5">4</tspan><tspan dy="-1.5">/CN with light</tspan></text>
<rect x="107.0" y="234.0" width="15.30" height="108.00" fill="#d9e2f4"/>
<g clip-path="url(#clipB)">
<path d="M29.30,336.61 L29.80,336.60 L30.30,336.60 L30.80,336.59 L31.30,336.58 L31.80,336.56 L32.30,336.56 L32.80,336.57 L33.30,336.56 L33.80,336.53 L34.30,336.51 L34.80,336.51 L35.30,336.51 L35.80,336.50 L36.30,336.48 L36.80,336.46 L37.30,336.44 L37.80,336.42 L38.30,336.39 L38.80,336.37 L39.30,336.34 L39.80,336.32 L40.30,336.28 L40.80,336.20 L41.30,336.09 L41.80,335.97 L42.30,335.85 L42.80,335.74 L43.30,335.66 L43.80,335.62 L44.30,335.67 L44.80,335.81 L45.30,336.03 L45.80,336.33 L46.30,336.65 L46.80,336.94 L47.30,337.17 L47.80,337.29 L48.30,337.30 L48.80,337.29 L49.30,337.27 L49.80,337.25 L50.30,337.22 L50.80,337.19 L51.30,337.16 L51.80,337.13 L52.30,337.08 L52.80,337.03 L53.30,336.99 L53.80,336.96 L54.30,336.93 L54.80,336.90 L55.30,336.88 L55.80,336.88 L56.30,336.88 L56.80,336.90 L57.30,336.90 L57.80,336.91 L58.30,336.94 L58.80,336.98 L59.30,337.02 L59.80,337.07 L60.30,337.12 L60.80,337.16 L61.30,337.18 L61.80,337.20 L62.30,337.24 L62.80,337.28 L63.30,337.32 L63.80,337.38 L64.30,337.43 L64.80,337.41 L65.30,337.39 L65.80,337.37 L66.30,337.35 L66.80,337.29 L67.30,337.20 L67.80,337.07 L68.30,336.92 L68.80,336.77 L69.30,336.62 L69.80,336.46 L70.30,336.31 L70.80,336.18 L71.30,336.06 L71.80,335.99 L72.30,336.00 L72.80,336.03 L73.30,336.07 L73.80,336.10 L74.30,336.13 L74.80,336.18 L75.30,336.23 L75.80,336.27 L76.30,336.31 L76.80,336.35 L77.30,336.42 L77.80,336.50 L78.30,336.56 L78.80,336.59 L79.30,336.62 L79.80,336.68 L80.30,336.73 L80.80,336.77 L81.30,336.79 L81.80,336.80 L82.30,336.82 L82.80,336.83 L83.30,336.81 L83.80,336.78 L84.30,336.75 L84.80,336.69 L85.30,336.63 L85.80,336.57 L86.30,336.52 L86.80,336.48 L87.30,336.43 L87.80,336.39 L88.30,336.33 L88.80,336.26 L89.30,336.19 L89.80,336.16 L90.30,336.14 L90.80,336.12 L91.30,336.10 L91.80,336.10 L92.30,336.09 L92.80,336.09 L93.30,336.11 L93.80,336.15 L94.30,336.19 L94.80,336.24 L95.30,336.29 L95.80,336.35 L96.30,336.43 L96.80,336.50 L97.30,336.54 L97.80,336.59 L98.30,336.63 L98.80,336.68 L99.30,336.71 L99.80,336.72 L100.30,336.71 L100.80,336.69 L101.30,336.66 L101.80,336.63 L102.30,336.58 L102.80,336.54 L103.30,336.50 L103.80,336.48 L104.30,336.52 L104.80,336.49 L105.30,336.49 L105.80,336.51 L106.30,336.55 L106.80,336.59 L107.30,336.72 L107.80,336.82 L108.30,336.83 L108.80,336.77 L109.30,336.71 L109.80,336.70 L110.30,336.69 L110.80,336.60 L111.30,336.45 L111.80,336.31 L112.30,336.24 L112.80,336.16 L113.30,336.09 L113.80,336.04 L114.30,336.01 L114.80,335.94 L115.30,335.89 L115.80,335.92 L116.30,336.03 L116.80,336.15 L117.30,336.26 L117.80,336.36 L118.30,336.42 L118.80,336.43 L119.30,336.44 L119.80,336.45 L120.30,336.46 L120.80,336.57 L121.30,336.77 L121.80,336.98 L122.30,337.04 L122.80,337.09 L123.30,337.13 L123.80,337.17 L124.30,337.18 L124.80,337.15 L125.30,337.12 L125.80,337.07 L126.30,337.04 L126.80,337.00 L127.30,336.97 L127.80,336.94 L128.30,336.86 L128.80,336.75 L129.30,336.66 L129.80,336.67 L130.30,336.69 L130.80,336.69 L131.30,336.66 L131.80,336.63 L132.30,336.67 L132.80,336.71 L133.30,336.70 L133.80,336.62 L134.30,336.55 L134.80,336.64 L135.30,336.72 L135.80,336.74 L136.30,336.70 L136.80,336.66 L137.30,336.67 L137.80,336.69 L138.30,336.66 L138.80,336.57 L139.30,336.47 L139.80,336.51 L140.30,336.44 L140.80,335.93 L141.30,335.26 L141.80,335.57 L142.30,336.18 L142.80,336.34 L143.30,336.35 L143.80,336.38 L144.30,336.41 L144.80,336.39 L145.30,336.37 L145.80,336.35 L146.30,336.32 L146.80,336.28 L147.30,336.26 L147.80,336.25 L148.30,336.21 L148.80,336.17 L149.30,336.13 L149.80,336.15 L150.30,336.17 L150.80,336.20 L151.30,336.22 L151.80,336.24 L152.30,336.19 L152.80,336.08 L153.30,335.78 L153.80,335.17 L154.30,334.61 L154.80,334.75 L155.30,335.40 L155.80,335.86 L156.30,335.63 L156.80,334.97 L157.30,335.10 L157.80,335.78 L158.30,336.07 L158.80,336.10 L159.30,336.09 L159.80,336.08 L160.30,336.07 L160.80,336.08 L161.30,336.12 L161.80,336.16 L162.30,336.12 L162.80,336.09 L163.30,336.08 L163.80,336.10 L164.30,336.12 L164.80,336.08 L165.30,336.04 L165.80,336.02 L166.30,336.02 L166.80,336.01 L167.30,336.03 L167.80,336.06 L168.30,336.11 L168.80,336.17 L169.30,336.23 L169.80,336.13 L170.30,335.91 L170.80,335.60 L171.30,335.74 L171.80,336.15 L172.30,336.27 L172.80,336.27 L173.30,336.27 L173.80,336.29 L174.30,336.30 L174.80,336.29 L175.30,336.27 L175.80,336.28 L176.30,336.30 L176.80,336.32 L177.30,336.37 L177.80,336.42 L178.30,336.43 L178.80,336.42 L179.30,336.41 L179.80,336.37 L180.30,336.33 L180.80,336.31 L181.30,336.32 L181.80,336.32 L182.30,336.36 L182.80,336.40 L183.30,336.40 L183.80,336.35 L184.30,336.29 L184.80,336.31 L185.30,336.33 L185.80,336.31 L186.30,336.25 L186.80,336.20 L187.30,336.24 L187.80,336.28" fill="none" stroke="#4e5db3" stroke-width="0.95" stroke-linejoin="round" stroke-linecap="round" />
<path d="M29.30,324.14 L29.80,324.13 L30.30,324.12 L30.80,324.11 L31.30,324.11 L31.80,324.10 L32.30,324.09 L32.80,324.08 L33.30,324.06 L33.80,324.04 L34.30,324.01 L34.80,324.01 L35.30,324.00 L35.80,323.99 L36.30,323.98 L36.80,323.97 L37.30,323.93 L37.80,323.90 L38.30,323.88 L38.80,323.87 L39.30,323.86 L39.80,323.79 L40.30,323.71 L40.80,323.63 L41.30,323.55 L41.80,323.45 L42.30,323.34 L42.80,323.25 L43.30,323.16 L43.80,323.10 L44.30,323.09 L44.80,323.17 L45.30,323.32 L45.80,323.47 L46.30,323.56 L46.80,323.71 L47.30,323.87 L47.80,323.91 L48.30,323.85 L48.80,323.86 L49.30,323.92 L49.80,323.95 L50.30,323.94 L50.80,323.81 L51.30,323.71 L51.80,323.67 L52.30,323.67 L52.80,323.64 L53.30,323.55 L53.80,323.52 L54.30,323.53 L54.80,323.53 L55.30,323.45 L55.80,323.48 L56.30,323.56 L56.80,323.58 L57.30,323.57 L57.80,323.56 L58.30,323.64 L58.80,323.67 L59.30,323.67 L59.80,323.69 L60.30,323.70 L60.80,323.83 L61.30,323.90 L61.80,323.90 L62.30,323.86 L62.80,323.88 L63.30,323.94 L63.80,323.97 L64.30,323.98 L64.80,323.96 L65.30,323.97 L65.80,324.02 L66.30,324.05 L66.80,324.04 L67.30,323.98 L67.80,323.88 L68.30,323.67 L68.80,323.32 L69.30,323.04 L69.80,322.95 L70.30,322.78 L70.80,322.58 L71.30,322.61 L71.80,322.68 L72.30,322.63 L72.80,322.56 L73.30,322.64 L73.80,322.71 L74.30,322.72 L74.80,322.69 L75.30,322.72 L75.80,322.83 L76.30,322.92 L76.80,322.93 L77.30,323.04 L77.80,323.22 L78.30,323.30 L78.80,323.34 L79.30,323.32 L79.80,323.38 L80.30,323.48 L80.80,323.52 L81.30,323.50 L81.80,323.42 L82.30,323.44 L82.80,323.51 L83.30,323.51 L83.80,323.46 L84.30,323.27 L84.80,323.11 L85.30,323.21 L85.80,323.24 L86.30,323.13 L86.80,323.11 L87.30,323.11 L87.80,323.03 L88.30,322.88 L88.80,322.85 L89.30,322.94 L89.80,322.89 L90.30,322.72 L90.80,322.60 L91.30,322.70 L91.80,322.82 L92.30,322.81 L92.80,322.73 L93.30,322.78 L93.80,322.91 L94.30,322.96 L94.80,322.91 L95.30,322.89 L95.80,323.06 L96.30,323.15 L96.80,323.15 L97.30,323.10 L97.80,323.16 L98.30,323.29 L98.80,323.32 L99.30,323.28 L99.80,323.29 L100.30,323.39 L100.80,323.41 L101.30,323.36 L101.80,323.30 L102.30,323.37 L102.80,323.40 L103.30,323.37 L103.80,323.31 L104.30,323.29 L104.80,323.29 L105.30,323.28 L105.80,323.34 L106.30,323.49 L106.80,323.64 L107.30,323.70 L107.80,323.72 L108.30,323.72 L108.80,323.72 L109.30,323.71 L109.80,323.70 L110.30,323.68 L110.80,323.63 L111.30,323.57 L111.80,323.51 L112.30,323.40 L112.80,323.27 L113.30,323.20 L113.80,323.20 L114.30,323.22 L114.80,323.19 L115.30,323.18 L115.80,323.22 L116.30,323.32 L116.80,323.43 L117.30,323.45 L117.80,323.47 L118.30,323.50 L118.80,323.54 L119.30,323.58 L119.80,323.60 L120.30,323.63 L120.80,323.70 L121.30,323.80 L121.80,323.90 L122.30,324.04 L122.80,324.14 L123.30,324.19 L123.80,324.19 L124.30,324.15 L124.80,324.10 L125.30,324.04 L125.80,323.98 L126.30,323.97 L126.80,323.96 L127.30,323.85 L127.80,323.75 L128.30,323.67 L128.80,323.62 L129.30,323.58 L129.80,323.59 L130.30,323.62 L130.80,323.65 L131.30,323.67 L131.80,323.70 L132.30,323.77 L132.80,323.84 L133.30,323.89 L133.80,323.90 L134.30,323.91 L134.80,323.96 L135.30,324.02 L135.80,324.03 L136.30,323.96 L136.80,323.89 L137.30,324.07 L137.80,324.25 L138.30,324.31 L138.80,324.26 L139.30,324.19 L139.80,324.15 L140.30,324.10 L140.80,324.11 L141.30,324.18 L141.80,324.25 L142.30,324.30 L142.80,324.36 L143.30,324.34 L143.80,324.30 L144.30,324.25 L144.80,324.18 L145.30,324.10 L145.80,324.07 L146.30,324.07 L146.80,324.09 L147.30,324.08 L147.80,324.07 L148.30,323.99 L148.80,323.73 L149.30,323.04 L149.80,322.55 L150.30,323.01 L150.80,323.58 L151.30,323.77 L151.80,323.81 L152.30,323.89 L152.80,323.96 L153.30,323.99 L153.80,323.99 L154.30,323.99 L154.80,323.91 L155.30,323.82 L155.80,323.80 L156.30,323.84 L156.80,323.91 L157.30,323.88 L157.80,323.86 L158.30,323.82 L158.80,323.74 L159.30,323.49 L159.80,322.82 L160.30,322.02 L160.80,322.02 L161.30,322.39 L161.80,322.20 L162.30,322.48 L162.80,323.24 L163.30,323.60 L163.80,323.71 L164.30,323.77 L164.80,323.75 L165.30,323.73 L165.80,323.67 L166.30,323.57 L166.80,323.48 L167.30,323.51 L167.80,323.53 L168.30,323.60 L168.80,323.72 L169.30,323.85 L169.80,323.84 L170.30,323.81 L170.80,323.78 L171.30,323.73 L171.80,323.68 L172.30,323.77 L172.80,323.85 L173.30,323.92 L173.80,323.96 L174.30,324.01 L174.80,324.00 L175.30,323.94 L175.80,323.93 L176.30,323.91 L176.80,323.89 L177.30,323.92 L177.80,323.96 L178.30,323.94 L178.80,323.87 L179.30,323.80 L179.80,323.78 L180.30,323.77 L180.80,323.77 L181.30,323.76 L181.80,323.75 L182.30,323.85 L182.80,323.94 L183.30,324.00 L183.80,324.00 L184.30,324.00 L184.80,323.92 L185.30,323.84 L185.80,323.80 L186.30,323.82 L186.80,323.83 L187.30,323.83 L187.80,323.82" fill="none" stroke="#6470bc" stroke-width="0.95" stroke-linejoin="round" stroke-linecap="round" />
<path d="M29.30,310.13 L29.80,310.12 L30.30,310.12 L30.80,310.10 L31.30,310.07 L31.80,310.04 L32.30,310.06 L32.80,310.07 L33.30,310.06 L33.80,310.03 L34.30,309.99 L34.80,309.96 L35.30,309.93 L35.80,309.92 L36.30,309.95 L36.80,309.97 L37.30,309.95 L37.80,309.92 L38.30,309.91 L38.80,309.90 L39.30,309.89 L39.80,309.86 L40.30,309.83 L40.80,309.74 L41.30,309.59 L41.80,309.43 L42.30,309.32 L42.80,309.21 L43.30,309.14 L43.80,309.12 L44.30,309.17 L44.80,309.21 L45.30,309.24 L45.80,309.22 L46.30,309.06 L46.80,309.15 L47.30,309.29 L47.80,309.18 L48.30,308.89 L48.80,308.98 L49.30,309.27 L49.80,309.34 L50.30,309.26 L50.80,308.96 L51.30,309.05 L51.80,309.37 L52.30,309.25 L52.80,309.01 L53.30,308.73 L53.80,308.87 L54.30,309.18 L54.80,309.02 L55.30,308.57 L55.80,308.54 L56.30,308.80 L56.80,308.79 L57.30,308.74 L57.80,308.65 L58.30,308.88 L58.80,308.99 L59.30,308.93 L59.80,308.75 L60.30,308.51 L60.80,308.91 L61.30,309.28 L61.80,309.40 L62.30,309.25 L62.80,309.32 L63.30,309.49 L63.80,309.50 L64.30,309.43 L64.80,309.30 L65.30,309.29 L65.80,309.36 L66.30,309.35 L66.80,309.26 L67.30,309.23 L67.80,309.14 L68.30,308.74 L68.80,307.93 L69.30,307.42 L69.80,307.67 L70.30,307.57 L70.80,307.22 L71.30,307.68 L71.80,308.14 L72.30,307.96 L72.80,307.67 L73.30,307.97 L73.80,308.22 L74.30,308.24 L74.80,308.02 L75.30,308.07 L75.80,308.28 L76.30,308.22 L76.80,307.88 L77.30,308.09 L77.80,308.56 L78.30,308.68 L78.80,308.57 L79.30,308.25 L79.80,308.46 L80.30,308.86 L80.80,309.01 L81.30,308.96 L81.80,308.68 L82.30,308.64 L82.80,308.81 L83.30,308.83 L83.80,308.73 L84.30,308.11 L84.80,307.64 L85.30,308.24 L85.80,308.49 L86.30,308.14 L86.80,308.11 L87.30,308.24 L87.80,308.00 L88.30,307.50 L88.80,307.42 L89.30,307.94 L89.80,308.11 L90.30,307.82 L90.80,307.44 L91.30,307.71 L91.80,307.99 L92.30,308.01 L92.80,307.67 L93.30,307.78 L93.80,308.15 L94.30,308.18 L94.80,307.76 L95.30,307.46 L95.80,308.05 L96.30,308.46 L96.80,308.52 L97.30,308.12 L97.80,308.19 L98.30,308.58 L98.80,308.62 L99.30,308.34 L99.80,308.33 L100.30,308.73 L100.80,308.82 L101.30,308.61 L101.80,308.34 L102.30,308.72 L102.80,309.04 L103.30,309.02 L103.80,308.73 L104.30,308.63 L104.80,308.74 L105.30,308.77 L105.80,308.87 L106.30,309.04 L106.80,309.23 L107.30,309.33 L107.80,309.39 L108.30,309.37 L108.80,309.31 L109.30,309.22 L109.80,309.16 L110.30,309.09 L110.80,309.04 L111.30,309.02 L111.80,309.00 L112.30,308.91 L112.80,308.82 L113.30,308.76 L113.80,308.72 L114.30,308.72 L114.80,308.73 L115.30,308.75 L115.80,308.76 L116.30,308.76 L116.80,308.76 L117.30,308.88 L117.80,309.00 L118.30,309.08 L118.80,309.11 L119.30,309.13 L119.80,309.20 L120.30,309.28 L120.80,309.34 L121.30,309.38 L121.80,309.42 L122.30,309.56 L122.80,309.70 L123.30,309.79 L123.80,309.81 L124.30,309.80 L124.80,309.85 L125.30,309.89 L125.80,309.83 L126.30,309.69 L126.80,309.55 L127.30,309.54 L127.80,309.53 L128.30,309.49 L128.80,309.41 L129.30,309.35 L129.80,309.37 L130.30,309.41 L130.80,309.45 L131.30,309.48 L131.80,309.54 L132.30,309.65 L132.80,309.77 L133.30,309.84 L133.80,309.85 L134.30,309.85 L134.80,309.97 L135.30,310.09 L135.80,310.23 L136.30,310.43 L136.80,310.64 L137.30,310.66 L137.80,310.66 L138.30,310.67 L138.80,310.49 L139.30,309.84 L139.80,309.90 L140.30,310.47 L140.80,310.60 L141.30,310.67 L141.80,310.73 L142.30,310.46 L142.80,309.30 L143.30,308.16 L143.80,309.28 L144.30,310.37 L144.80,310.63 L145.30,310.71 L145.80,310.73 L146.30,310.70 L146.80,310.64 L147.30,310.49 L147.80,310.34 L148.30,310.26 L148.80,310.20 L149.30,309.95 L149.80,309.56 L150.30,309.65 L150.80,310.06 L151.30,310.23 L151.80,310.25 L152.30,310.27 L152.80,310.29 L153.30,310.26 L153.80,310.18 L154.30,310.11 L154.80,310.18 L155.30,310.24 L155.80,310.22 L156.30,310.09 L156.80,309.90 L157.30,309.64 L157.80,309.33 L158.30,309.44 L158.80,309.90 L159.30,310.25 L159.80,310.34 L160.30,310.37 L160.80,310.31 L161.30,310.02 L161.80,309.68 L162.30,309.66 L162.80,309.96 L163.30,310.13 L163.80,310.13 L164.30,310.07 L164.80,310.13 L165.30,310.19 L165.80,310.24 L166.30,310.27 L166.80,310.31 L167.30,310.22 L167.80,310.14 L168.30,310.08 L168.80,310.05 L169.30,310.01 L169.80,309.94 L170.30,309.89 L170.80,309.89 L171.30,309.92 L171.80,309.95 L172.30,310.18 L172.80,310.42 L173.30,310.45 L173.80,310.26 L174.30,310.07 L174.80,310.12 L175.30,310.17 L175.80,310.20 L176.30,310.22 L176.80,310.23 L177.30,310.25 L177.80,310.27 L178.30,310.24 L178.80,310.17 L179.30,310.10 L179.80,310.17 L180.30,310.26 L180.80,310.32 L181.30,310.33 L181.80,310.35 L182.30,310.35 L182.80,310.35 L183.30,310.34 L183.80,310.27 L184.30,310.20 L184.80,310.16 L185.30,310.13 L185.80,310.06 L186.30,309.95 L186.80,309.85 L187.30,309.94 L187.80,310.04" fill="none" stroke="#8f94cf" stroke-width="0.95" stroke-linejoin="round" stroke-linecap="round" />
<path d="M29.30,296.94 L29.80,296.99 L30.30,297.05 L30.80,297.05 L31.30,297.02 L31.80,296.98 L32.30,296.97 L32.80,296.97 L33.30,296.97 L33.80,296.98 L34.30,296.99 L34.80,296.95 L35.30,296.89 L35.80,296.83 L36.30,296.76 L36.80,296.69 L37.30,296.70 L37.80,296.70 L38.30,296.72 L38.80,296.73 L39.30,296.75 L39.80,296.70 L40.30,296.64 L40.80,296.56 L41.30,296.47 L41.80,296.38 L42.30,296.29 L42.80,296.21 L43.30,296.14 L43.80,296.07 L44.30,296.12 L44.80,296.10 L45.30,296.07 L45.80,295.92 L46.30,295.45 L46.80,295.54 L47.30,296.12 L47.80,296.13 L48.30,295.62 L48.80,295.80 L49.30,296.41 L49.80,296.47 L50.30,296.20 L50.80,295.41 L51.30,295.46 L51.80,296.05 L52.30,296.03 L52.80,295.71 L53.30,295.14 L53.80,295.34 L54.30,295.92 L54.80,295.79 L55.30,295.01 L55.80,295.17 L56.30,295.92 L56.80,296.07 L57.30,295.52 L57.80,294.85 L58.30,295.28 L58.80,295.76 L59.30,295.88 L59.80,295.51 L60.30,294.98 L60.80,295.79 L61.30,296.40 L61.80,296.42 L62.30,295.96 L62.80,296.00 L63.30,296.41 L63.80,296.58 L64.30,296.60 L64.80,296.30 L65.30,296.28 L65.80,296.54 L66.30,296.68 L66.80,296.74 L67.30,296.51 L67.80,296.17 L68.30,295.46 L68.80,294.14 L69.30,293.47 L69.80,293.94 L70.30,293.61 L70.80,292.78 L71.30,293.81 L71.80,294.80 L72.30,294.43 L72.80,293.80 L73.30,294.52 L73.80,295.17 L74.30,295.26 L74.80,294.80 L75.30,294.92 L75.80,295.40 L76.30,295.39 L76.80,294.75 L77.30,294.79 L77.80,295.41 L78.30,295.48 L78.80,295.27 L79.30,294.67 L79.80,294.98 L80.30,295.72 L80.80,295.96 L81.30,295.81 L81.80,295.15 L82.30,295.17 L82.80,295.70 L83.30,295.69 L83.80,295.24 L84.30,293.63 L84.80,292.88 L85.30,294.52 L85.80,295.36 L86.30,294.78 L86.80,294.92 L87.30,295.51 L87.80,295.30 L88.30,294.28 L88.80,294.04 L89.30,294.89 L89.80,295.09 L90.30,294.24 L90.80,293.41 L91.30,294.30 L91.80,295.18 L92.30,294.97 L92.80,294.05 L93.30,294.17 L93.80,294.93 L94.30,294.90 L94.80,294.02 L95.30,293.42 L95.80,294.71 L96.30,295.42 L96.80,295.36 L97.30,294.52 L97.80,294.75 L98.30,295.58 L98.80,295.53 L99.30,294.73 L99.80,294.57 L100.30,295.33 L100.80,295.59 L101.30,295.39 L101.80,295.07 L102.30,295.39 L102.80,295.65 L103.30,295.62 L103.80,295.44 L104.30,295.56 L104.80,295.80 L105.30,295.84 L105.80,295.90 L106.30,296.02 L106.80,296.14 L107.30,296.22 L107.80,296.25 L108.30,296.26 L108.80,296.29 L109.30,296.29 L109.80,296.21 L110.30,296.12 L110.80,296.01 L111.30,295.88 L111.80,295.76 L112.30,295.74 L112.80,295.74 L113.30,295.72 L113.80,295.69 L114.30,295.67 L114.80,295.70 L115.30,295.74 L115.80,295.81 L116.30,295.90 L116.80,296.00 L117.30,296.04 L117.80,296.09 L118.30,296.13 L118.80,296.18 L119.30,296.22 L119.80,296.24 L120.30,296.26 L120.80,296.31 L121.30,296.36 L121.80,296.43 L122.30,296.53 L122.80,296.63 L123.30,296.72 L123.80,296.77 L124.30,296.79 L124.80,296.84 L125.30,296.86 L125.80,296.82 L126.30,296.69 L126.80,296.56 L127.30,296.51 L127.80,296.46 L128.30,296.41 L128.80,296.38 L129.30,296.37 L129.80,296.36 L130.30,296.38 L130.80,296.43 L131.30,296.52 L131.80,296.64 L132.30,296.75 L132.80,296.86 L133.30,296.95 L133.80,297.00 L134.30,297.04 L134.80,297.19 L135.30,297.35 L135.80,297.46 L136.30,297.73 L136.80,297.65 L137.30,297.55 L137.80,297.44 L138.30,297.35 L138.80,297.27 L139.30,297.01 L139.80,296.75 L140.30,296.89 L140.80,297.30 L141.30,297.50 L141.80,297.57 L142.30,297.69 L142.80,297.80 L143.30,297.63 L143.80,296.62 L144.30,295.88 L144.80,296.89 L145.30,297.36 L145.80,297.36 L146.30,297.30 L146.80,297.25 L147.30,297.19 L147.80,296.18 L148.30,294.71 L148.80,295.96 L149.30,296.87 L149.80,297.13 L150.30,297.28 L150.80,297.30 L151.30,297.19 L151.80,297.08 L152.30,297.12 L152.80,297.16 L153.30,297.22 L153.80,297.28 L154.30,297.34 L154.80,297.35 L155.30,297.35 L155.80,297.45 L156.30,297.66 L156.80,297.86 L157.30,297.56 L157.80,297.26 L158.30,297.06 L158.80,296.96 L159.30,296.87 L159.80,296.92 L160.30,296.97 L160.80,297.07 L161.30,297.23 L161.80,297.39 L162.30,297.22 L162.80,297.06 L163.30,297.04 L163.80,297.18 L164.30,297.31 L164.80,297.17 L165.30,297.04 L165.80,297.00 L166.30,297.04 L166.80,297.11 L167.30,296.92 L167.80,296.74 L168.30,296.75 L168.80,296.95 L169.30,297.15 L169.80,297.16 L170.30,297.20 L170.80,297.15 L171.30,297.01 L171.80,296.87 L172.30,297.08 L172.80,297.29 L173.30,297.46 L173.80,297.58 L174.30,297.69 L174.80,297.50 L175.30,297.25 L175.80,297.16 L176.30,297.12 L176.80,297.06 L177.30,297.07 L177.80,297.07 L178.30,297.07 L178.80,297.07 L179.30,297.07 L179.80,297.12 L180.30,297.20 L180.80,297.27 L181.30,297.33 L181.80,297.39 L182.30,297.28 L182.80,297.16 L183.30,297.12 L183.80,297.12 L184.30,297.11 L184.80,297.04 L185.30,296.96 L185.80,296.93 L186.30,296.97 L186.80,297.00 L187.30,297.04 L187.80,297.09" fill="none" stroke="#c0c0e7" stroke-width="0.95" stroke-linejoin="round" stroke-linecap="round" />
<path d="M29.30,283.57 L29.80,283.55 L30.30,283.54 L30.80,283.53 L31.30,283.55 L31.80,283.56 L32.30,283.50 L32.80,283.44 L33.30,283.37 L33.80,283.27 L34.30,283.18 L34.80,283.24 L35.30,283.31 L35.80,283.34 L36.30,283.34 L36.80,283.34 L37.30,283.26 L37.80,283.18 L38.30,283.11 L38.80,283.03 L39.30,282.96 L39.80,283.02 L40.30,283.06 L40.80,283.03 L41.30,282.93 L41.80,282.82 L42.30,282.61 L42.80,282.41 L43.30,282.30 L43.80,282.29 L44.30,282.24 L44.80,282.21 L45.30,282.14 L45.80,281.99 L46.30,281.47 L46.80,281.83 L47.30,282.51 L47.80,282.34 L48.30,281.47 L48.80,281.82 L49.30,282.86 L49.80,282.73 L50.30,282.08 L50.80,280.93 L51.30,281.37 L51.80,282.64 L52.30,282.70 L52.80,282.30 L53.30,281.43 L53.80,281.67 L54.30,282.51 L54.80,282.17 L55.30,280.79 L55.80,280.94 L56.30,282.15 L56.80,282.41 L57.30,281.74 L57.80,280.88 L58.30,281.60 L58.80,282.23 L59.30,282.28 L59.80,281.53 L60.30,280.54 L60.80,281.67 L61.30,282.53 L61.80,282.48 L62.30,281.93 L62.80,282.16 L63.30,282.80 L63.80,282.88 L64.30,282.73 L64.80,282.31 L65.30,282.31 L65.80,282.67 L66.30,282.90 L66.80,283.01 L67.30,282.75 L67.80,282.34 L68.30,281.23 L68.80,279.15 L69.30,278.16 L69.80,279.58 L70.30,279.75 L70.80,278.69 L71.30,280.07 L71.80,281.35 L72.30,280.89 L72.80,279.94 L73.30,280.81 L73.80,281.28 L74.30,280.87 L74.80,280.25 L75.30,280.53 L75.80,281.43 L76.30,281.53 L76.80,280.64 L77.30,280.74 L77.80,281.73 L78.30,281.90 L78.80,281.66 L79.30,280.80 L79.80,280.91 L80.30,281.71 L80.80,281.90 L81.30,281.67 L81.80,280.64 L82.30,280.92 L82.80,281.99 L83.30,282.15 L83.80,281.51 L84.30,279.08 L84.80,277.71 L85.30,280.08 L85.80,281.18 L86.30,280.08 L86.80,280.10 L87.30,281.19 L87.80,281.01 L88.30,279.58 L88.80,279.34 L89.30,280.82 L89.80,281.32 L90.30,280.17 L90.80,278.88 L91.30,280.12 L91.80,281.33 L92.30,281.05 L92.80,279.64 L93.30,279.89 L93.80,281.16 L94.30,281.20 L94.80,279.80 L95.30,278.86 L95.80,280.75 L96.30,281.66 L96.80,281.38 L97.30,279.79 L97.80,279.87 L98.30,281.12 L98.80,281.26 L99.30,280.32 L99.80,280.16 L100.30,281.42 L100.80,281.81 L101.30,281.37 L101.80,280.75 L102.30,281.70 L102.80,282.48 L103.30,282.44 L103.80,281.83 L104.30,281.79 L104.80,282.34 L105.30,282.55 L105.80,282.72 L106.30,282.90 L106.80,283.08 L107.30,283.13 L107.80,283.14 L108.30,283.09 L108.80,283.03 L109.30,282.95 L109.80,282.81 L110.30,282.66 L110.80,282.61 L111.30,282.68 L111.80,282.75 L112.30,282.51 L112.80,282.30 L113.30,282.16 L113.80,282.10 L114.30,282.05 L114.80,282.25 L115.30,282.45 L115.80,282.50 L116.30,282.40 L116.80,282.30 L117.30,282.37 L117.80,282.44 L118.30,282.51 L118.80,282.60 L119.30,282.68 L119.80,282.70 L120.30,282.72 L120.80,282.75 L121.30,282.78 L121.80,282.82 L122.30,283.04 L122.80,283.25 L123.30,283.40 L123.80,283.45 L124.30,283.47 L124.80,283.46 L125.30,283.45 L125.80,283.39 L126.30,283.29 L126.80,283.20 L127.30,283.12 L127.80,283.05 L128.30,282.99 L128.80,282.94 L129.30,282.91 L129.80,282.98 L130.30,283.08 L130.80,283.17 L131.30,283.24 L131.80,283.33 L132.30,283.40 L132.80,283.46 L133.30,283.56 L133.80,283.69 L134.30,283.80 L134.80,283.80 L135.30,283.80 L135.80,283.89 L136.30,283.65 L136.80,284.06 L137.30,283.94 L137.80,283.80 L138.30,283.84 L138.80,284.05 L139.30,284.23 L139.80,284.25 L140.30,284.26 L140.80,284.09 L141.30,283.72 L141.80,283.35 L142.30,283.90 L142.80,284.45 L143.30,284.69 L143.80,284.61 L144.30,284.53 L144.80,284.44 L145.30,284.35 L145.80,284.28 L146.30,284.04 L146.80,283.57 L147.30,283.70 L147.80,284.21 L148.30,284.41 L148.80,284.39 L149.30,284.35 L149.80,284.43 L150.30,284.54 L150.80,284.58 L151.30,284.54 L151.80,284.51 L152.30,284.59 L152.80,284.68 L153.30,284.69 L153.80,284.64 L154.30,284.58 L154.80,284.33 L155.30,284.07 L155.80,283.95 L156.30,283.95 L156.80,283.93 L157.30,284.20 L157.80,284.48 L158.30,284.58 L158.80,284.46 L159.30,284.13 L159.80,283.68 L160.30,283.61 L160.80,283.79 L161.30,283.78 L161.80,283.58 L162.30,283.63 L162.80,283.67 L163.30,283.71 L163.80,283.75 L164.30,283.79 L164.80,284.08 L165.30,284.38 L165.80,284.43 L166.30,284.26 L166.80,283.98 L167.30,283.81 L167.80,283.64 L168.30,283.56 L168.80,283.57 L169.30,283.58 L169.80,283.68 L170.30,283.85 L170.80,284.04 L171.30,284.24 L171.80,284.44 L172.30,284.11 L172.80,283.78 L173.30,283.75 L173.80,284.03 L174.30,284.32 L174.80,284.09 L175.30,283.95 L175.80,283.88 L176.30,283.90 L176.80,283.88 L177.30,283.78 L177.80,283.69 L178.30,283.70 L178.80,283.83 L179.30,283.96 L179.80,283.76 L180.30,283.67 L180.80,283.76 L181.30,284.01 L181.80,284.25 L182.30,284.18 L182.80,284.11 L183.30,284.24 L183.80,284.48 L184.30,284.71 L184.80,284.54 L185.30,284.37 L185.80,284.28 L186.30,284.26 L186.80,284.22 L187.30,284.00 L187.80,283.78" fill="none" stroke="#f6c4d5" stroke-width="0.95" stroke-linejoin="round" stroke-linecap="round" />
<path d="M29.30,268.99 L29.80,269.17 L30.30,269.34 L30.80,269.39 L31.30,269.29 L31.80,269.22 L32.30,269.20 L32.80,269.17 L33.30,269.16 L33.80,269.16 L34.30,269.15 L34.80,269.25 L35.30,269.32 L35.80,269.34 L36.30,269.31 L36.80,269.28 L37.30,269.27 L37.80,269.25 L38.30,269.20 L38.80,269.13 L39.30,269.06 L39.80,268.95 L40.30,268.82 L40.80,268.81 L41.30,268.91 L41.80,269.00 L42.30,268.82 L42.80,268.66 L43.30,268.50 L43.80,268.34 L44.30,268.04 L44.80,267.92 L45.30,267.88 L45.80,267.60 L46.30,266.56 L46.80,266.97 L47.30,268.47 L47.80,268.60 L48.30,267.29 L48.80,267.50 L49.30,268.83 L49.80,268.99 L50.30,268.32 L50.80,266.46 L51.30,266.86 L51.80,268.63 L52.30,268.64 L52.80,267.90 L53.30,266.48 L53.80,266.99 L54.30,268.49 L54.80,267.91 L55.30,265.68 L55.80,265.84 L56.30,267.51 L56.80,267.62 L57.30,266.84 L57.80,265.76 L58.30,267.07 L58.80,268.00 L59.30,267.95 L59.80,266.49 L60.30,264.62 L60.80,266.50 L61.30,268.23 L61.80,268.45 L62.30,266.85 L62.80,266.52 L63.30,267.39 L63.80,267.87 L64.30,267.96 L64.80,267.35 L65.30,267.49 L65.80,268.08 L66.30,268.10 L66.80,267.96 L67.30,268.05 L67.80,267.90 L68.30,266.65 L68.80,263.70 L69.30,262.42 L69.80,264.06 L70.30,263.63 L70.80,261.63 L71.30,264.08 L71.80,266.33 L72.30,265.63 L72.80,264.14 L73.30,265.89 L73.80,267.25 L74.30,267.15 L74.80,266.05 L75.30,266.42 L75.80,267.59 L76.30,267.20 L76.80,265.20 L77.30,265.39 L77.80,267.04 L78.30,267.51 L78.80,267.46 L79.30,266.33 L79.80,266.61 L80.30,268.02 L80.80,268.32 L81.30,267.84 L81.80,266.07 L82.30,266.02 L82.80,267.33 L83.30,267.43 L83.80,266.52 L84.30,262.66 L84.80,260.64 L85.30,264.77 L85.80,266.76 L86.30,265.16 L86.80,265.41 L87.30,266.99 L87.80,266.48 L88.30,263.85 L88.80,263.11 L89.30,265.42 L89.80,266.14 L90.30,264.15 L90.80,262.15 L91.30,264.49 L91.80,266.79 L92.30,266.09 L92.80,263.50 L93.30,263.91 L93.80,266.28 L94.30,266.62 L94.80,264.51 L95.30,263.14 L95.80,266.32 L96.30,267.81 L96.80,267.35 L97.30,265.01 L97.80,265.41 L98.30,267.62 L98.80,267.91 L99.30,266.32 L99.80,265.78 L100.30,267.61 L100.80,268.11 L101.30,267.38 L101.80,266.35 L102.30,267.51 L102.80,268.35 L103.30,268.13 L103.80,267.22 L104.30,267.31 L104.80,267.96 L105.30,268.06 L105.80,268.16 L106.30,268.39 L106.80,268.63 L107.30,268.78 L107.80,268.89 L108.30,268.91 L108.80,268.87 L109.30,268.79 L109.80,268.80 L110.30,268.79 L110.80,268.70 L111.30,268.52 L111.80,268.34 L112.30,268.18 L112.80,268.05 L113.30,268.02 L113.80,268.08 L114.30,268.17 L114.80,268.11 L115.30,268.07 L115.80,268.11 L116.30,268.23 L116.80,268.36 L117.30,268.21 L117.80,268.05 L118.30,268.03 L118.80,268.14 L119.30,268.25 L119.80,268.43 L120.30,268.61 L120.80,268.77 L121.30,268.89 L121.80,269.02 L122.30,269.12 L122.80,269.21 L123.30,269.31 L123.80,269.43 L124.30,269.52 L124.80,269.39 L125.30,269.24 L125.80,269.13 L126.30,269.06 L126.80,268.98 L127.30,268.99 L127.80,269.01 L128.30,268.96 L128.80,268.84 L129.30,268.73 L129.80,268.78 L130.30,268.87 L130.80,269.03 L131.30,269.26 L131.80,269.54 L132.30,269.70 L132.80,269.86 L133.30,270.03 L133.80,270.23 L134.30,270.39 L134.80,270.52 L135.30,270.67 L135.80,270.87 L136.30,271.24 L136.80,271.54 L137.30,271.69 L137.80,271.80 L138.30,271.90 L138.80,271.97 L139.30,272.00 L139.80,271.91 L140.30,271.81 L140.80,271.87 L141.30,272.08 L141.80,272.28 L142.30,271.92 L142.80,271.55 L143.30,271.38 L143.80,271.36 L144.30,271.34 L144.80,271.26 L145.30,271.17 L145.80,271.22 L146.30,271.09 L146.80,270.47 L147.30,270.43 L147.80,271.12 L148.30,271.28 L148.80,271.25 L149.30,270.95 L149.80,269.92 L150.30,269.76 L150.80,270.38 L151.30,270.62 L151.80,270.70 L152.30,270.75 L152.80,270.79 L153.30,270.63 L153.80,270.12 L154.30,269.46 L154.80,269.31 L155.30,269.79 L155.80,270.55 L156.30,270.81 L156.80,270.82 L157.30,270.81 L157.80,270.80 L158.30,270.86 L158.80,270.99 L159.30,271.12 L159.80,271.05 L160.30,271.06 L160.80,271.11 L161.30,271.03 L161.80,270.77 L162.30,270.96 L162.80,271.52 L163.30,271.82 L163.80,271.97 L164.30,272.08 L164.80,271.72 L165.30,271.36 L165.80,271.19 L166.30,271.22 L166.80,271.28 L167.30,271.14 L167.80,271.01 L168.30,270.95 L168.80,270.98 L169.30,271.01 L169.80,270.88 L170.30,270.79 L170.80,270.66 L171.30,270.51 L171.80,270.36 L172.30,270.62 L172.80,270.89 L173.30,271.07 L173.80,271.14 L174.30,271.22 L174.80,270.81 L175.30,270.51 L175.80,270.41 L176.30,270.48 L176.80,270.56 L177.30,270.53 L177.80,270.51 L178.30,270.35 L178.80,270.07 L179.30,269.78 L179.80,270.26 L180.30,270.75 L180.80,270.96 L181.30,270.89 L181.80,270.81 L182.30,270.76 L182.80,270.71 L183.30,270.67 L183.80,270.55 L184.30,270.44 L184.80,270.12 L185.30,269.80 L185.80,269.49 L186.30,269.20 L186.80,268.94 L187.30,269.25 L187.80,269.57" fill="none" stroke="#eea5c0" stroke-width="0.95" stroke-linejoin="round" stroke-linecap="round" />
<path d="M29.30,256.21 L29.80,256.27 L30.30,256.32 L30.80,256.43 L31.30,256.60 L31.80,256.69 L32.30,256.70 L32.80,256.71 L33.30,256.68 L33.80,256.60 L34.30,256.53 L34.80,256.30 L35.30,256.14 L35.80,256.07 L36.30,256.09 L36.80,256.11 L37.30,256.13 L37.80,256.15 L38.30,256.15 L38.80,256.14 L39.30,256.13 L39.80,256.19 L40.30,256.24 L40.80,256.18 L41.30,256.04 L41.80,255.88 L42.30,255.69 L42.80,255.51 L43.30,255.47 L43.80,255.58 L44.30,256.24 L44.80,256.05 L45.30,255.87 L45.80,255.44 L46.30,254.17 L46.80,254.67 L47.30,255.71 L47.80,255.10 L48.30,253.14 L48.80,253.58 L49.30,255.39 L49.80,255.63 L50.30,254.85 L50.80,252.52 L51.30,252.86 L51.80,254.86 L52.30,255.03 L52.80,254.28 L53.30,252.59 L53.80,253.14 L54.30,254.89 L54.80,254.15 L55.30,251.41 L55.80,251.88 L56.30,254.48 L56.80,255.19 L57.30,254.31 L57.80,253.06 L58.30,254.68 L58.80,255.77 L59.30,255.68 L59.80,253.96 L60.30,251.74 L60.80,253.80 L61.30,255.36 L61.80,255.08 L62.30,254.03 L62.80,254.53 L63.30,255.72 L63.80,255.67 L64.30,255.16 L64.80,254.42 L65.30,254.55 L65.80,255.17 L66.30,255.24 L66.80,255.11 L67.30,255.25 L67.80,255.11 L68.30,253.28 L68.80,249.11 L69.30,247.09 L69.80,249.96 L70.30,250.32 L70.80,248.38 L71.30,251.49 L71.80,254.36 L72.30,253.28 L72.80,251.22 L73.30,253.05 L73.80,254.36 L74.30,253.89 L74.80,252.49 L75.30,252.86 L75.80,254.12 L76.30,253.39 L76.80,250.69 L77.30,251.44 L77.80,253.97 L78.30,254.70 L78.80,254.45 L79.30,252.93 L79.80,253.31 L80.30,255.07 L80.80,255.14 L81.30,253.94 L81.80,251.17 L82.30,251.89 L82.80,254.23 L83.30,254.68 L83.80,253.51 L84.30,248.74 L84.80,246.30 L85.30,251.34 L85.80,253.81 L86.30,251.84 L86.80,252.13 L87.30,254.03 L87.80,253.41 L88.30,250.31 L88.80,249.65 L89.30,252.56 L89.80,253.59 L90.30,251.30 L90.80,248.76 L91.30,251.28 L91.80,253.73 L92.30,253.37 L92.80,250.65 L93.30,251.22 L93.80,253.81 L94.30,253.93 L94.80,250.86 L95.30,248.68 L95.80,252.42 L96.30,254.47 L96.80,254.13 L97.30,251.43 L97.80,252.06 L98.30,254.71 L98.80,254.82 L99.30,252.56 L99.80,252.10 L100.30,254.51 L100.80,255.23 L101.30,254.39 L101.80,253.18 L102.30,254.51 L102.80,255.46 L103.30,255.27 L103.80,254.40 L104.30,254.15 L104.80,254.93 L105.30,255.04 L105.80,255.09 L106.30,255.22 L106.80,255.37 L107.30,255.43 L107.80,255.45 L108.30,255.40 L108.80,255.31 L109.30,255.19 L109.80,255.11 L110.30,255.01 L110.80,254.97 L111.30,254.99 L111.80,255.01 L112.30,254.90 L112.80,254.81 L113.30,254.78 L113.80,254.80 L114.30,254.84 L114.80,254.67 L115.30,254.51 L115.80,254.52 L116.30,254.71 L116.80,254.91 L117.30,254.99 L117.80,255.07 L118.30,255.13 L118.80,255.16 L119.30,255.18 L119.80,255.22 L120.30,255.27 L120.80,255.28 L121.30,255.24 L121.80,255.22 L122.30,255.41 L122.80,255.61 L123.30,255.79 L123.80,255.94 L124.30,256.04 L124.80,255.87 L125.30,255.68 L125.80,255.62 L126.30,255.69 L126.80,255.76 L127.30,255.62 L127.80,255.48 L128.30,255.42 L128.80,255.45 L129.30,255.49 L129.80,255.54 L130.30,255.63 L130.80,255.71 L131.30,255.77 L131.80,255.89 L132.30,256.15 L132.80,256.42 L133.30,256.68 L133.80,256.90 L134.30,257.08 L134.80,257.21 L135.30,257.35 L135.80,257.57 L136.30,257.89 L136.80,258.38 L137.30,257.95 L137.80,257.48 L138.30,257.47 L138.80,257.90 L139.30,258.28 L139.80,257.95 L140.30,257.59 L140.80,257.43 L141.30,257.46 L141.80,257.49 L142.30,257.74 L142.80,257.99 L143.30,258.09 L143.80,257.92 L144.30,257.75 L144.80,257.96 L145.30,257.98 L145.80,257.64 L146.30,258.15 L146.80,259.06 L147.30,258.93 L147.80,258.24 L148.30,257.33 L148.80,258.11 L149.30,259.77 L149.80,259.32 L150.30,258.58 L150.80,258.19 L151.30,257.92 L151.80,256.95 L152.30,256.64 L152.80,257.06 L153.30,257.29 L153.80,257.84 L154.30,258.39 L154.80,258.36 L155.30,258.33 L155.80,258.44 L156.30,258.68 L156.80,258.82 L157.30,258.68 L157.80,258.54 L158.30,258.38 L158.80,258.13 L159.30,257.59 L159.80,256.68 L160.30,256.49 L160.80,257.21 L161.30,257.98 L161.80,258.53 L162.30,258.20 L162.80,257.87 L163.30,257.56 L163.80,257.26 L164.30,256.96 L164.80,257.29 L165.30,257.61 L165.80,257.49 L166.30,256.91 L166.80,256.40 L167.30,256.43 L167.80,256.25 L168.30,256.37 L168.80,256.63 L169.30,256.60 L169.80,257.02 L170.30,257.36 L170.80,257.37 L171.30,257.07 L171.80,256.76 L172.30,257.66 L172.80,258.55 L173.30,258.82 L173.80,258.46 L174.30,258.11 L174.80,257.98 L175.30,257.81 L175.80,257.75 L176.30,257.73 L176.80,257.69 L177.30,257.68 L177.80,257.67 L178.30,257.65 L178.80,257.62 L179.30,257.59 L179.80,257.45 L180.30,257.38 L180.80,257.28 L181.30,257.12 L181.80,256.95 L182.30,257.16 L182.80,257.36 L183.30,257.35 L183.80,257.10 L184.30,256.84 L184.80,257.00 L185.30,257.15 L185.80,257.27 L186.30,257.36 L186.80,257.44 L187.30,257.14 L187.80,256.84" fill="none" stroke="#e891b4" stroke-width="0.95" stroke-linejoin="round" stroke-linecap="round" />
<path d="M29.30,243.51 L29.80,243.45 L30.30,243.39 L30.80,243.40 L31.30,243.48 L31.80,243.56 L32.30,243.44 L32.80,243.32 L33.30,243.21 L33.80,243.12 L34.30,243.03 L34.80,242.94 L35.30,242.86 L35.80,242.88 L36.30,242.99 L36.80,243.10 L37.30,242.87 L37.80,242.63 L38.30,242.56 L38.80,242.65 L39.30,242.74 L39.80,242.89 L40.30,243.02 L40.80,242.99 L41.30,242.81 L41.80,242.62 L42.30,242.50 L42.80,242.40 L43.30,242.31 L43.80,242.25 L44.30,242.15 L44.80,241.94 L45.30,241.73 L45.80,241.26 L46.30,239.86 L46.80,240.43 L47.30,242.16 L47.80,242.06 L48.30,240.13 L48.80,240.51 L49.30,242.41 L49.80,242.42 L50.30,241.32 L50.80,238.75 L51.30,239.39 L51.80,241.86 L52.30,242.40 L52.80,241.94 L53.30,240.02 L53.80,240.18 L54.30,241.66 L54.80,241.38 L55.30,238.93 L55.80,239.43 L56.30,241.64 L56.80,241.75 L57.30,240.19 L57.80,238.21 L58.30,239.93 L58.80,241.59 L59.30,241.93 L59.80,240.24 L60.30,237.99 L60.80,240.49 L61.30,242.43 L61.80,242.35 L62.30,240.84 L62.80,241.05 L63.30,242.44 L63.80,242.87 L64.30,242.78 L64.80,241.72 L65.30,241.67 L65.80,242.34 L66.30,242.43 L66.80,242.32 L67.30,242.09 L67.80,241.54 L68.30,239.57 L68.80,235.42 L69.30,233.60 L69.80,236.70 L70.30,237.02 L70.80,234.86 L71.30,238.34 L71.80,241.54 L72.30,240.12 L72.80,237.63 L73.30,239.63 L73.80,241.23 L74.30,240.86 L74.80,239.14 L75.30,239.38 L75.80,241.00 L76.30,240.70 L76.80,238.24 L77.30,238.84 L77.80,241.42 L78.30,241.96 L78.80,241.31 L79.30,239.07 L79.80,239.68 L80.30,241.80 L80.80,242.02 L81.30,240.78 L81.80,237.81 L82.30,238.48 L82.80,241.05 L83.30,241.60 L83.80,240.40 L84.30,235.22 L84.80,232.41 L85.30,237.88 L85.80,240.50 L86.30,238.26 L86.80,238.52 L87.30,240.52 L87.80,239.71 L88.30,236.35 L88.80,235.87 L89.30,239.36 L89.80,240.14 L90.30,237.26 L90.80,234.35 L91.30,237.32 L91.80,240.21 L92.30,239.69 L92.80,236.62 L93.30,237.58 L93.80,241.17 L94.30,242.03 L94.80,237.99 L95.30,234.95 L95.80,238.67 L96.30,240.75 L96.80,240.19 L97.30,237.63 L97.80,238.77 L98.30,241.79 L98.80,241.65 L99.30,238.90 L99.80,238.15 L100.30,240.60 L100.80,241.37 L101.30,240.64 L101.80,239.50 L102.30,241.29 L102.80,242.73 L103.30,242.49 L103.80,241.07 L104.30,240.87 L104.80,241.93 L105.30,242.25 L105.80,242.32 L106.30,242.32 L106.80,242.32 L107.30,242.53 L107.80,242.68 L108.30,242.78 L108.80,242.84 L109.30,242.87 L109.80,242.80 L110.30,242.71 L110.80,242.59 L111.30,242.43 L111.80,242.28 L112.30,242.21 L112.80,242.10 L113.30,242.00 L113.80,241.91 L114.30,241.84 L114.80,241.78 L115.30,241.73 L115.80,241.70 L116.30,241.79 L116.80,241.88 L117.30,241.96 L117.80,242.05 L118.30,242.18 L118.80,242.35 L119.30,242.50 L119.80,242.38 L120.30,242.26 L120.80,242.31 L121.30,242.52 L121.80,242.73 L122.30,242.89 L122.80,243.06 L123.30,243.12 L123.80,243.04 L124.30,242.93 L124.80,242.87 L125.30,242.79 L125.80,242.71 L126.30,242.63 L126.80,242.55 L127.30,242.54 L127.80,242.52 L128.30,242.47 L128.80,242.39 L129.30,242.32 L129.80,242.41 L130.30,242.52 L130.80,242.64 L131.30,242.76 L131.80,242.91 L132.30,243.18 L132.80,243.48 L133.30,243.74 L133.80,243.92 L134.30,244.07 L134.80,244.31 L135.30,244.56 L135.80,244.82 L136.30,245.62 L136.80,245.89 L137.30,245.87 L137.80,245.82 L138.30,245.99 L138.80,246.37 L139.30,246.72 L139.80,246.36 L140.30,246.01 L140.80,245.67 L141.30,245.32 L141.80,244.96 L142.30,245.20 L142.80,245.43 L143.30,245.55 L143.80,245.58 L144.30,245.60 L144.80,245.43 L145.30,244.91 L145.80,243.70 L146.30,244.07 L146.80,245.40 L147.30,245.58 L147.80,244.76 L148.30,242.96 L148.80,243.54 L149.30,245.66 L149.80,245.45 L150.30,243.51 L150.80,243.49 L151.30,244.72 L151.80,244.75 L152.30,244.34 L152.80,242.91 L153.30,243.08 L153.80,244.13 L154.30,244.10 L154.80,243.73 L155.30,242.79 L155.80,243.06 L156.30,244.18 L156.80,244.66 L157.30,244.75 L157.80,244.84 L158.30,244.85 L158.80,244.72 L159.30,244.27 L159.80,244.02 L160.30,244.56 L160.80,245.21 L161.30,245.03 L161.80,244.60 L162.30,244.60 L162.80,244.60 L163.30,244.92 L163.80,245.56 L164.30,246.20 L164.80,245.36 L165.30,244.52 L165.80,244.33 L166.30,244.76 L166.80,245.18 L167.30,244.56 L167.80,243.64 L168.30,243.38 L168.80,243.55 L169.30,243.32 L169.80,244.13 L170.30,244.97 L170.80,245.27 L171.30,245.04 L171.80,244.81 L172.30,245.02 L172.80,245.19 L173.30,244.96 L173.80,244.31 L174.30,244.30 L174.80,244.82 L175.30,244.91 L175.80,244.95 L176.30,244.99 L176.80,245.01 L177.30,245.14 L177.80,245.26 L178.30,245.14 L178.80,244.78 L179.30,244.41 L179.80,244.26 L180.30,244.17 L180.80,244.21 L181.30,244.38 L181.80,244.54 L182.30,244.46 L182.80,244.38 L183.30,244.11 L183.80,243.65 L184.30,243.20 L184.80,243.66 L185.30,244.12 L185.80,244.29 L186.30,244.17 L186.80,244.04 L187.30,244.07 L187.80,244.10" fill="none" stroke="#e78fb2" stroke-width="0.95" stroke-linejoin="round" stroke-linecap="round" />
</g>
<line x1="43.00" y1="337.60" x2="43.00" y2="229.00" stroke="#7d9bd9" stroke-width="2.2" />
<path d="M43.0,223.0 L46.5,230.6 L39.5,230.6 Z" fill="#7d9bd9"/>
<rect x="29.3" y="214.0" width="158.50" height="128.50" fill="none" stroke="#000" stroke-width="1.3"/>
<line x1="29.30" y1="342.50" x2="29.30" y2="345.20" stroke="#000" stroke-width="1.0" />
<line x1="45.15" y1="342.50" x2="45.15" y2="344.40" stroke="#000" stroke-width="1.0" />
<line x1="61.00" y1="342.50" x2="61.00" y2="345.20" stroke="#000" stroke-width="1.0" />
<line x1="76.85" y1="342.50" x2="76.85" y2="344.40" stroke="#000" stroke-width="1.0" />
<line x1="92.70" y1="342.50" x2="92.70" y2="345.20" stroke="#000" stroke-width="1.0" />
<line x1="108.55" y1="342.50" x2="108.55" y2="344.40" stroke="#000" stroke-width="1.0" />
<line x1="124.40" y1="342.50" x2="124.40" y2="345.20" stroke="#000" stroke-width="1.0" />
<line x1="140.25" y1="342.50" x2="140.25" y2="344.40" stroke="#000" stroke-width="1.0" />
<line x1="156.10" y1="342.50" x2="156.10" y2="345.20" stroke="#000" stroke-width="1.0" />
<line x1="171.95" y1="342.50" x2="171.95" y2="344.40" stroke="#000" stroke-width="1.0" />
<line x1="187.80" y1="342.50" x2="187.80" y2="345.20" stroke="#000" stroke-width="1.0" />
<text x="29.30" y="353.00" font-size="8.8" font-weight="normal" text-anchor="middle" fill="#000" stroke="#000" stroke-width="0.1">4000</text>
<text x="61.00" y="353.00" font-size="8.8" font-weight="normal" text-anchor="middle" fill="#000" stroke="#000" stroke-width="0.1">3800</text>
<text x="92.70" y="353.00" font-size="8.8" font-weight="normal" text-anchor="middle" fill="#000" stroke="#000" stroke-width="0.1">3600</text>
<text x="124.40" y="353.00" font-size="8.8" font-weight="normal" text-anchor="middle" fill="#000" stroke="#000" stroke-width="0.1">3400</text>
<text x="156.10" y="353.00" font-size="8.8" font-weight="normal" text-anchor="middle" fill="#000" stroke="#000" stroke-width="0.1">3200</text>
<text x="187.80" y="353.00" font-size="8.8" font-weight="normal" text-anchor="middle" fill="#000" stroke="#000" stroke-width="0.1">3000</text>
<text x="48.60" y="228.90" font-size="9.4" font-weight="normal" text-anchor="start" fill="#000" >35 min</text>
<text x="47.40" y="336.40" font-size="9.4" font-weight="normal" text-anchor="start" fill="#000" >0 min</text>
<text x="182.60" y="228.30" font-size="9.4" font-weight="bold" text-anchor="end" fill="#000" >g-C<tspan font-size="6.3" dy="1.7">3</tspan><tspan dy="-1.7">N</tspan><tspan font-size="6.3" dy="1.7">4</tspan></text>
<text x="60.70" y="368.30" font-size="10.6" font-weight="normal" text-anchor="start" fill="#000" textLength="95.5" lengthAdjust="spacingAndGlyphs" stroke="#000" stroke-width="0.12">Wavenumber (cm<tspan font-size="7.2" dy="-4.2">-1</tspan><tspan dy="4.2">)</tspan></text>
<text transform="translate(22.7,279.3) rotate(-90)" font-size="9.8" text-anchor="middle" fill="#000" stroke="#000" stroke-width="0.12" textLength="67.7" lengthAdjust="spacingAndGlyphs">Intensity (a.u.)</text>
<text x="-0.30" y="202.00" font-size="9" font-weight="bold" text-anchor="start" fill="#000" textLength="188.0" lengthAdjust="spacingAndGlyphs">b) <tspan font-style="italic">In-situ</tspan> FTIR spectra of g-C<tspan font-size="5.8" dy="1.5">3</tspan><tspan dy="-1.5">N</tspan><tspan font-size="5.8" dy="1.5">4</tspan><tspan dy="-1.5"> with light</tspan></text>
<path d="M230.20,85.80 L230.20,85.80 L230.71,85.25 L231.23,84.63 L231.74,83.94 L232.25,83.19 L232.77,82.38 L233.28,81.53 L233.79,80.63 L234.31,79.69 L234.82,78.67 L235.33,77.53 L235.84,76.30 L236.36,75.00 L236.87,73.66 L237.38,72.29 L237.90,70.93 L238.41,69.58 L238.92,68.20 L239.44,66.77 L239.95,65.33 L240.46,63.87 L240.98,62.41 L241.49,60.97 L242.00,59.54 L242.52,58.07 L243.03,56.58 L243.54,55.10 L244.05,53.64 L244.57,52.23 L245.08,50.91 L245.59,49.68 L246.11,48.51 L246.62,47.36 L247.13,46.24 L247.65,45.19 L248.16,44.21 L248.67,43.33 L249.19,42.55 L249.70,41.88 L250.21,41.24 L250.73,40.64 L251.24,40.08 L251.75,39.59 L252.26,39.17 L252.78,38.82 L253.29,38.55 L253.80,38.29 L254.32,38.05 L254.83,37.86 L255.34,37.74 L255.86,37.70 L256.37,37.74 L256.88,37.84 L257.40,37.99 L257.91,38.19 L258.42,38.42 L258.94,38.68 L259.45,38.97 L259.96,39.36 L260.47,39.96 L260.99,40.72 L261.50,41.62 L262.01,42.60 L262.53,43.64 L263.04,44.68 L263.55,45.72 L264.07,46.85 L264.58,48.09 L265.09,49.40 L265.61,50.75 L266.12,52.14 L266.63,53.52 L267.15,54.89 L267.66,56.29 L268.17,57.75 L268.68,59.22 L269.20,60.70 L269.71,62.15 L270.22,63.56 L270.74,64.89 L271.25,66.18 L271.76,67.43 L272.28,68.65 L272.79,69.83 L273.30,70.99 L273.82,72.12 L274.33,73.22 L274.84,74.29 L275.36,75.33 L275.87,76.35 L276.38,77.36 L276.89,78.35 L277.41,79.33 L277.92,80.29 L278.43,81.25 L278.95,82.19 L279.46,83.11 L279.97,84.02 L280.49,84.92 L281.00,85.80 L281.00,85.80Z" fill="#6272b8"/>
<path d="M258.60,85.80 L258.60,85.80 L259.11,85.17 L259.61,84.54 L260.12,83.92 L260.62,83.31 L261.13,82.70 L261.63,82.09 L262.14,81.49 L262.64,80.90 L263.15,80.29 L263.65,79.68 L264.16,79.06 L264.66,78.45 L265.17,77.85 L265.67,77.26 L266.18,76.70 L266.68,76.16 L267.19,75.65 L267.69,75.18 L268.20,74.75 L268.70,74.34 L269.21,73.94 L269.71,73.56 L270.22,73.20 L270.72,72.84 L271.23,72.50 L271.73,72.18 L272.24,71.86 L272.74,71.56 L273.25,71.27 L273.75,70.98 L274.26,70.70 L274.76,70.42 L275.27,70.14 L275.77,69.86 L276.28,69.60 L276.78,69.35 L277.29,69.11 L277.79,68.90 L278.30,68.72 L278.80,68.57 L279.31,68.46 L279.81,68.35 L280.32,68.24 L280.82,68.14 L281.33,68.05 L281.83,67.97 L282.34,67.91 L282.84,67.85 L283.35,67.82 L283.85,67.80 L284.36,67.81 L284.86,67.84 L285.37,67.89 L285.87,67.97 L286.38,68.06 L286.88,68.17 L287.39,68.30 L287.89,68.44 L288.40,68.59 L288.90,68.74 L289.41,68.90 L289.91,69.07 L290.42,69.26 L290.92,69.49 L291.43,69.77 L291.93,70.09 L292.44,70.43 L292.94,70.81 L293.45,71.20 L293.95,71.60 L294.46,72.02 L294.96,72.43 L295.47,72.84 L295.97,73.27 L296.48,73.72 L296.98,74.20 L297.49,74.70 L297.99,75.21 L298.50,75.73 L299.00,76.25 L299.51,76.78 L300.01,77.30 L300.52,77.82 L301.02,78.33 L301.53,78.84 L302.03,79.36 L302.54,79.89 L303.04,80.41 L303.55,80.93 L304.05,81.45 L304.56,81.97 L305.06,82.47 L305.57,82.96 L306.07,83.45 L306.58,83.93 L307.08,84.41 L307.59,84.88 L308.09,85.34 L308.60,85.80 L308.60,85.80Z" fill="#e9a2c2"/>
<path d="M229.80,85.80 L230.37,85.13 L230.94,84.38 L231.52,83.55 L232.09,82.64 L232.66,81.68 L233.23,80.65 L233.80,79.58 L234.38,78.43 L234.95,77.15 L235.52,75.76 L236.09,74.29 L236.66,72.77 L237.24,71.24 L237.81,69.72 L238.38,68.17 L238.95,66.57 L239.52,64.95 L240.09,63.30 L240.67,61.63 L241.24,59.97 L241.81,58.30 L242.38,56.59 L242.95,54.86 L243.53,53.14 L244.10,51.42 L244.67,49.74 L245.24,48.09 L245.81,46.47 L246.39,44.87 L246.96,43.33 L247.53,41.88 L248.10,40.42 L248.67,38.96 L249.25,37.55 L249.82,36.24 L250.39,35.10 L250.96,34.18 L251.53,33.47 L252.11,32.81 L252.68,32.22 L253.25,31.71 L253.82,31.29 L254.39,30.98 L254.97,30.77 L255.54,30.58 L256.11,30.42 L256.68,30.32 L257.25,30.30 L257.83,30.38 L258.40,30.54 L258.97,30.77 L259.54,31.05 L260.11,31.37 L260.68,31.72 L261.26,32.24 L261.83,32.95 L262.40,33.79 L262.97,34.72 L263.54,35.69 L264.12,36.66 L264.69,37.66 L265.26,38.76 L265.83,39.94 L266.40,41.16 L266.98,42.39 L267.55,43.59 L268.12,44.74 L268.69,45.89 L269.26,47.04 L269.84,48.18 L270.41,49.30 L270.98,50.39 L271.55,51.44 L272.12,52.45 L272.70,53.45 L273.27,54.44 L273.84,55.39 L274.41,56.28 L274.98,57.08 L275.56,57.78 L276.13,58.42 L276.70,59.02 L277.27,59.58 L277.84,60.11 L278.42,60.62 L278.99,61.09 L279.56,61.55 L280.13,61.98 L280.70,62.40 L281.27,62.80 L281.85,63.17 L282.42,63.52 L282.99,63.86 L283.56,64.18 L284.13,64.51 L284.71,64.83 L285.28,65.16 L285.85,65.51 L286.42,65.87 L286.99,66.23 L287.57,66.59 L288.14,66.96 L288.71,67.34 L289.28,67.72 L289.85,68.10 L290.43,68.49 L291.00,68.87 L291.57,69.26 L292.14,69.65 L292.71,70.05 L293.29,70.45 L293.86,70.87 L294.43,71.30 L295.00,71.76 L295.57,72.23 L296.15,72.74 L296.72,73.27 L297.29,73.82 L297.86,74.39 L298.43,74.97 L299.01,75.56 L299.58,76.16 L300.15,76.74 L300.72,77.32 L301.29,77.90 L301.86,78.49 L302.44,79.08 L303.01,79.67 L303.58,80.26 L304.15,80.85 L304.72,81.43 L305.30,82.00 L305.87,82.56 L306.44,83.11 L307.01,83.66 L307.58,84.20 L308.16,84.74 L308.73,85.27 L309.30,85.80" fill="none" stroke="#6a6cb8" stroke-width="0.85" stroke-linejoin="round" stroke-linecap="round" />
<line x1="256.90" y1="24.90" x2="256.90" y2="56.50" stroke="#000" stroke-width="1.25" stroke-dasharray="5 3.75"/>
<line x1="287.30" y1="52.00" x2="287.30" y2="83.00" stroke="#000" stroke-width="1.25" stroke-dasharray="5 3.75"/>
<text x="223.90" y="41.30" font-size="8.2" font-weight="normal" text-anchor="start" fill="#000" stroke="#000" stroke-width="0.12">130 <tspan font-family="DejaVu Serif, Noto Serif CJK SC, serif" font-size="7.4" dx="0.4" stroke-width="0.08">℃</tspan></text>
<text x="293.60" y="68.40" font-size="8.2" font-weight="normal" text-anchor="start" fill="#000" stroke="#000" stroke-width="0.12">220 <tspan font-family="DejaVu Serif, Noto Serif CJK SC, serif" font-size="7.4" dx="0.4" stroke-width="0.08">℃</tspan></text>
<path d="M230.20,152.10 L230.20,152.10 L230.70,151.57 L231.19,151.00 L231.69,150.39 L232.18,149.74 L232.68,149.05 L233.18,148.34 L233.67,147.59 L234.17,146.81 L234.66,146.00 L235.16,145.12 L235.66,144.18 L236.15,143.19 L236.65,142.17 L237.14,141.13 L237.64,140.08 L238.14,139.03 L238.63,137.96 L239.13,136.85 L239.62,135.73 L240.12,134.58 L240.62,133.43 L241.11,132.28 L241.61,131.14 L242.10,130.01 L242.60,128.86 L243.09,127.71 L243.59,126.56 L244.09,125.41 L244.58,124.29 L245.08,123.20 L245.57,122.14 L246.07,121.09 L246.57,120.02 L247.06,118.97 L247.56,117.95 L248.05,116.98 L248.55,116.08 L249.05,115.27 L249.54,114.56 L250.04,113.89 L250.53,113.24 L251.03,112.64 L251.53,112.09 L252.02,111.59 L252.52,111.15 L253.01,110.79 L253.51,110.46 L254.01,110.14 L254.50,109.82 L255.00,109.54 L255.49,109.29 L255.99,109.10 L256.49,108.96 L256.98,108.90 L257.48,108.92 L257.97,109.00 L258.47,109.15 L258.97,109.34 L259.46,109.58 L259.96,109.85 L260.45,110.16 L260.95,110.49 L261.45,110.83 L261.94,111.29 L262.44,111.92 L262.93,112.68 L263.43,113.54 L263.93,114.46 L264.42,115.41 L264.92,116.36 L265.41,117.29 L265.91,118.28 L266.41,119.32 L266.90,120.41 L267.40,121.53 L267.89,122.69 L268.39,123.87 L268.88,125.06 L269.38,126.30 L269.88,127.61 L270.37,128.93 L270.87,130.24 L271.36,131.54 L271.86,132.85 L272.36,134.16 L272.85,135.46 L273.35,136.77 L273.84,138.09 L274.34,139.41 L274.84,140.75 L275.33,142.09 L275.83,143.43 L276.32,144.75 L276.82,146.04 L277.32,147.30 L277.81,148.53 L278.31,149.74 L278.80,150.93 L279.30,152.10 L279.30,152.10Z" fill="#6272b8"/>
<path d="M247.40,152.10 L247.40,152.10 L248.29,151.55 L249.19,150.97 L250.08,150.36 L250.98,149.72 L251.87,149.05 L252.77,148.35 L253.66,147.63 L254.56,146.89 L255.45,146.12 L256.35,145.30 L257.24,144.43 L258.14,143.53 L259.03,142.61 L259.93,141.66 L260.82,140.69 L261.72,139.73 L262.61,138.76 L263.51,137.78 L264.40,136.77 L265.30,135.75 L266.19,134.72 L267.09,133.67 L267.98,132.62 L268.88,131.56 L269.77,130.50 L270.67,129.44 L271.56,128.37 L272.46,127.29 L273.35,126.19 L274.25,125.10 L275.14,124.00 L276.04,122.91 L276.93,121.84 L277.83,120.76 L278.72,119.66 L279.62,118.54 L280.51,117.45 L281.41,116.41 L282.30,115.47 L283.20,114.63 L284.09,113.85 L284.99,113.10 L285.88,112.40 L286.78,111.77 L287.67,111.22 L288.57,110.77 L289.46,110.36 L290.36,109.95 L291.25,109.58 L292.15,109.26 L293.04,109.03 L293.94,108.91 L294.83,108.92 L295.73,109.01 L296.62,109.18 L297.52,109.42 L298.41,109.71 L299.31,110.04 L300.20,110.40 L301.10,110.79 L301.99,111.19 L302.89,111.71 L303.78,112.38 L304.68,113.15 L305.57,114.00 L306.47,114.88 L307.36,115.76 L308.26,116.67 L309.15,117.65 L310.05,118.68 L310.94,119.75 L311.84,120.85 L312.73,121.97 L313.63,123.09 L314.52,124.27 L315.42,125.48 L316.31,126.71 L317.21,127.93 L318.10,129.14 L319.00,130.31 L319.89,131.46 L320.79,132.59 L321.68,133.72 L322.58,134.86 L323.47,136.02 L324.37,137.22 L325.26,138.44 L326.16,139.67 L327.05,140.90 L327.95,142.11 L328.84,143.29 L329.74,144.44 L330.63,145.58 L331.53,146.70 L332.42,147.81 L333.32,148.91 L334.21,149.99 L335.11,151.05 L336.00,152.10 L336.00,152.10Z" fill="#e9a2c2"/>
<path d="M312.10,152.10 L312.10,152.10 L312.65,151.44 L313.20,150.76 L313.75,150.07 L314.30,149.37 L314.85,148.65 L315.40,147.92 L315.95,147.17 L316.50,146.41 L317.05,145.64 L317.59,144.85 L318.14,144.05 L318.69,143.24 L319.24,142.41 L319.79,141.57 L320.34,140.71 L320.89,139.83 L321.44,138.94 L321.99,138.03 L322.54,137.11 L323.09,136.16 L323.64,135.19 L324.19,134.16 L324.74,133.07 L325.29,131.96 L325.84,130.84 L326.39,129.74 L326.94,128.69 L327.49,127.69 L328.04,126.78 L328.58,125.91 L329.13,125.04 L329.68,124.20 L330.23,123.40 L330.78,122.63 L331.33,121.92 L331.88,121.26 L332.43,120.67 L332.98,120.13 L333.53,119.62 L334.08,119.14 L334.63,118.69 L335.18,118.30 L335.73,117.97 L336.28,117.71 L336.83,117.50 L337.38,117.29 L337.93,117.11 L338.48,116.96 L339.03,116.85 L339.57,116.80 L340.12,116.82 L340.67,116.88 L341.22,116.99 L341.77,117.13 L342.32,117.29 L342.87,117.46 L343.42,117.64 L343.97,117.87 L344.52,118.14 L345.07,118.46 L345.62,118.82 L346.17,119.24 L346.72,119.79 L347.27,120.47 L347.82,121.26 L348.37,122.11 L348.92,122.98 L349.47,123.84 L350.02,124.68 L350.56,125.54 L351.11,126.42 L351.66,127.33 L352.21,128.25 L352.76,129.18 L353.31,130.12 L353.86,131.07 L354.41,132.04 L354.96,133.02 L355.51,134.02 L356.06,135.01 L356.61,136.00 L357.16,136.98 L357.71,137.97 L358.26,138.97 L358.81,139.96 L359.36,140.95 L359.91,141.93 L360.46,142.88 L361.01,143.82 L361.55,144.74 L362.10,145.65 L362.65,146.55 L363.20,147.43 L363.75,148.28 L364.30,149.10 L364.85,149.89 L365.40,150.66 L365.95,151.39 L366.50,152.10 L366.50,152.10Z" fill="#6398cf"/>
<path d="M229.60,152.10 L230.59,150.87 L231.57,149.45 L232.56,147.87 L233.55,146.15 L234.54,144.31 L235.52,142.38 L236.51,140.34 L237.50,138.02 L238.48,135.47 L239.47,132.83 L240.46,130.23 L241.44,127.58 L242.43,124.89 L243.42,122.17 L244.41,119.44 L245.39,116.65 L246.38,113.87 L247.37,111.19 L248.35,108.53 L249.34,105.89 L250.33,103.45 L251.32,101.38 L252.30,99.49 L253.29,97.78 L254.28,96.41 L255.26,95.51 L256.25,94.76 L257.24,94.12 L258.22,93.65 L259.21,93.41 L260.20,93.46 L261.19,93.74 L262.17,94.17 L263.16,94.70 L264.15,95.27 L265.13,95.97 L266.12,96.92 L267.11,98.01 L268.09,99.15 L269.08,100.22 L270.07,101.13 L271.06,101.99 L272.04,102.84 L273.03,103.63 L274.02,104.36 L275.00,104.98 L275.99,105.50 L276.98,105.99 L277.97,106.43 L278.95,106.82 L279.94,107.15 L280.93,107.39 L281.91,107.57 L282.90,107.74 L283.89,107.90 L284.87,108.04 L285.86,108.16 L286.85,108.24 L287.84,108.29 L288.82,108.30 L289.81,108.30 L290.80,108.30 L291.78,108.30 L292.77,108.30 L293.76,108.30 L294.75,108.31 L295.73,108.41 L296.72,108.61 L297.71,108.86 L298.69,109.17 L299.68,109.50 L300.67,109.84 L301.65,110.16 L302.64,110.48 L303.63,110.85 L304.62,111.25 L305.60,111.66 L306.59,112.07 L307.58,112.45 L308.56,112.79 L309.55,113.07 L310.54,113.34 L311.53,113.61 L312.51,113.87 L313.50,114.11 L314.49,114.30 L315.47,114.43 L316.46,114.50 L317.45,114.49 L318.43,114.43 L319.42,114.33 L320.41,114.21 L321.40,114.05 L322.38,113.88 L323.37,113.60 L324.36,113.16 L325.34,112.61 L326.33,112.02 L327.32,111.43 L328.31,110.87 L329.29,110.24 L330.28,109.56 L331.27,108.90 L332.25,108.32 L333.24,107.88 L334.23,107.59 L335.21,107.33 L336.20,107.13 L337.19,107.01 L338.18,107.06 L339.16,107.43 L340.15,108.03 L341.14,108.75 L342.12,109.55 L343.11,110.69 L344.10,112.07 L345.08,113.57 L346.07,115.16 L347.06,116.94 L348.05,118.84 L349.03,120.76 L350.02,122.71 L351.01,124.71 L351.99,126.75 L352.98,128.78 L353.97,130.68 L354.96,132.47 L355.94,134.19 L356.93,135.92 L357.92,137.69 L358.90,139.48 L359.89,141.25 L360.88,142.96 L361.86,144.62 L362.85,146.23 L363.84,147.79 L364.83,149.29 L365.81,150.72 L366.80,152.10" fill="none" stroke="#6a6cb8" stroke-width="0.85" stroke-linejoin="round" stroke-linecap="round" />
<path d="M230.40,152.10 L230.61,151.84 L230.82,151.57 L231.03,151.30 L231.24,151.02 L231.45,150.73 L231.66,150.43 L231.87,150.13 L232.07,149.83 L232.28,149.52 L232.49,149.20 L232.70,148.87 L232.91,148.54 L233.12,148.21 L233.33,147.87 L233.54,147.52 L233.75,147.17 L233.96,146.82 L234.17,146.46 L234.38,146.10 L234.59,145.73 L234.80,145.35 L235.01,144.98 L235.22,144.60 L235.42,144.21 L235.63,143.82 L235.84,143.43 L236.05,143.03 L236.26,142.63 L236.47,142.23 L236.68,141.82 L236.89,141.41 L237.10,141.00 L237.31,140.58 L237.52,140.15 L237.73,139.71 L237.94,139.26 L238.15,138.80 L238.36,138.33 L238.56,137.85 L238.77,137.37 L238.98,136.87 L239.19,136.38 L239.40,135.87 L239.61,135.36 L239.82,134.84 L240.03,134.32 L240.24,133.79 L240.45,133.26 L240.66,132.73 L240.87,132.20 L241.08,131.66 L241.29,131.12 L241.50,130.58 L241.71,130.04 L241.91,129.50 L242.12,128.95 L242.33,128.39 L242.54,127.83 L242.75,127.25 L242.96,126.67 L243.17,126.08 L243.38,125.49 L243.59,124.90 L243.80,124.30 L244.01,123.70 L244.22,123.10 L244.43,122.51 L244.64,121.91 L244.85,121.32 L245.05,120.73 L245.26,120.15 L245.47,119.57 L245.68,119.00 L245.89,118.42 L246.10,117.85 L246.31,117.27 L246.52,116.69 L246.73,116.11 L246.94,115.53 L247.15,114.96 L247.36,114.39 L247.57,113.82 L247.78,113.25 L247.99,112.69 L248.19,112.13 L248.40,111.58 L248.61,111.03 L248.82,110.50 L249.03,109.97 L249.24,109.44 L249.45,108.93 L249.66,108.41 L249.87,107.90 L250.08,107.38 L250.29,106.87 L250.50,106.36 L250.71,105.85 L250.92,105.35 L251.13,104.86 L251.34,104.37 L251.54,103.90 L251.75,103.43 L251.96,102.97 L252.17,102.52 L252.38,102.09 L252.59,101.67 L252.80,101.27 L253.01,100.88 L253.22,100.50 L253.43,100.12 L253.64,99.75 L253.85,99.38 L254.06,99.01 L254.27,98.65 L254.48,98.30 L254.68,97.95 L254.89,97.62 L255.10,97.29 L255.31,96.98 L255.52,96.68 L255.73,96.40 L255.94,96.13 L256.15,95.87 L256.36,95.64 L256.57,95.42 L256.78,95.23 L256.99,95.04 L257.20,94.86 L257.41,94.68 L257.62,94.51 L257.83,94.34 L258.03,94.19 L258.24,94.04 L258.45,93.90 L258.66,93.78 L258.87,93.66 L259.08,93.56 L259.29,93.47 L259.50,93.40" fill="none" stroke="#6a6cb8" stroke-width="0.6" stroke-linejoin="round" stroke-linecap="round" />
<line x1="259.50" y1="93.40" x2="259.50" y2="124.00" stroke="#000" stroke-width="1.25" stroke-dasharray="5 3.75"/>
<line x1="295.60" y1="95.30" x2="295.60" y2="126.00" stroke="#000" stroke-width="1.25" stroke-dasharray="5 3.75"/>
<line x1="337.80" y1="102.20" x2="337.80" y2="133.00" stroke="#000" stroke-width="1.25" stroke-dasharray="5 3.75"/>
<text x="222.20" y="114.10" font-size="8.2" font-weight="normal" text-anchor="start" fill="#000" stroke="#000" stroke-width="0.12">130 <tspan font-family="DejaVu Serif, Noto Serif CJK SC, serif" font-size="7.4" dx="0.4" stroke-width="0.08">℃</tspan></text>
<text x="298.10" y="106.60" font-size="8.2" font-weight="normal" text-anchor="start" fill="#000" stroke="#000" stroke-width="0.12">250 <tspan font-family="DejaVu Serif, Noto Serif CJK SC, serif" font-size="7.4" dx="0.4" stroke-width="0.08">℃</tspan></text>
<text x="348.30" y="121.80" font-size="8.2" font-weight="normal" text-anchor="start" fill="#000" stroke="#000" stroke-width="0.12">375 <tspan font-family="DejaVu Serif, Noto Serif CJK SC, serif" font-size="7.4" dx="0.4" stroke-width="0.08">℃</tspan></text>
<rect x="213.6" y="19.1" width="165.9" height="133.7" fill="none" stroke="#000" stroke-width="1.3"/>
<line x1="213.60" y1="86.20" x2="379.50" y2="86.20" stroke="#000" stroke-width="1.4" />
<line x1="213.70" y1="152.80" x2="213.70" y2="155.40" stroke="#000" stroke-width="1.0" />
<line x1="230.28" y1="152.80" x2="230.28" y2="154.70" stroke="#000" stroke-width="1.0" />
<line x1="246.86" y1="152.80" x2="246.86" y2="155.40" stroke="#000" stroke-width="1.0" />
<line x1="263.44" y1="152.80" x2="263.44" y2="154.70" stroke="#000" stroke-width="1.0" />
<line x1="280.02" y1="152.80" x2="280.02" y2="155.40" stroke="#000" stroke-width="1.0" />
<line x1="296.60" y1="152.80" x2="296.60" y2="154.70" stroke="#000" stroke-width="1.0" />
<line x1="313.18" y1="152.80" x2="313.18" y2="155.40" stroke="#000" stroke-width="1.0" />
<line x1="329.76" y1="152.80" x2="329.76" y2="154.70" stroke="#000" stroke-width="1.0" />
<line x1="346.34" y1="152.80" x2="346.34" y2="155.40" stroke="#000" stroke-width="1.0" />
<line x1="362.92" y1="152.80" x2="362.92" y2="154.70" stroke="#000" stroke-width="1.0" />
<line x1="379.50" y1="152.80" x2="379.50" y2="155.40" stroke="#000" stroke-width="1.0" />
<text x="213.70" y="164.20" font-size="8.8" font-weight="normal" text-anchor="middle" fill="#000" stroke="#000" stroke-width="0.1">0</text>
<text x="246.86" y="164.20" font-size="8.8" font-weight="normal" text-anchor="middle" fill="#000" stroke="#000" stroke-width="0.1">100</text>
<text x="280.02" y="164.20" font-size="8.8" font-weight="normal" text-anchor="middle" fill="#000" stroke="#000" stroke-width="0.1">200</text>
<text x="313.18" y="164.20" font-size="8.8" font-weight="normal" text-anchor="middle" fill="#000" stroke="#000" stroke-width="0.1">300</text>
<text x="346.34" y="164.20" font-size="8.8" font-weight="normal" text-anchor="middle" fill="#000" stroke="#000" stroke-width="0.1">400</text>
<text x="379.50" y="164.20" font-size="8.8" font-weight="normal" text-anchor="middle" fill="#000" stroke="#000" stroke-width="0.1">500</text>
<text x="373.80" y="32.40" font-size="9.4" font-weight="bold" text-anchor="end" fill="#000" >w/ g-C<tspan font-size="6.3" dy="1.7">3</tspan><tspan dy="-1.7">N</tspan><tspan font-size="6.3" dy="1.7">4</tspan></text>
<text x="373.20" y="95.80" font-size="9.4" font-weight="bold" text-anchor="end" fill="#000" >w/ Pd-N<tspan font-size="6.3" dy="1.7">4</tspan><tspan dy="-1.7">/CN</tspan></text>
<text x="252.40" y="177.70" font-size="10.4" font-weight="normal" text-anchor="start" fill="#000" textLength="89.6" lengthAdjust="spacingAndGlyphs" stroke="#000" stroke-width="0.12">Temperature (<tspan font-size="7.6" dy="-4.3">o</tspan><tspan dy="4.3">C)</tspan></text>
<text x="215.00" y="7.00" font-size="9" font-weight="bold" text-anchor="start" fill="#000" textLength="99.5" lengthAdjust="spacingAndGlyphs">c) Alkyne-TPD profiles</text>
<path d="M230.20,278.80 L230.20,278.80 L230.72,278.14 L231.23,277.40 L231.75,276.59 L232.26,275.72 L232.78,274.79 L233.29,273.81 L233.81,272.76 L234.32,271.60 L234.84,270.35 L235.35,269.03 L235.87,267.66 L236.38,266.26 L236.90,264.85 L237.41,263.44 L237.93,261.99 L238.44,260.49 L238.96,258.96 L239.47,257.41 L239.99,255.85 L240.50,254.29 L241.02,252.75 L241.53,251.19 L242.05,249.61 L242.56,248.03 L243.08,246.45 L243.59,244.89 L244.11,243.34 L244.62,241.83 L245.14,240.33 L245.65,238.83 L246.17,237.35 L246.68,235.89 L247.20,234.46 L247.72,233.09 L248.23,231.77 L248.75,230.49 L249.26,229.21 L249.78,227.95 L250.29,226.74 L250.81,225.59 L251.32,224.55 L251.84,223.62 L252.35,222.82 L252.87,222.04 L253.38,221.30 L253.90,220.67 L254.41,220.18 L254.93,219.89 L255.44,219.72 L255.96,219.58 L256.47,219.51 L256.99,219.53 L257.50,219.70 L258.02,220.00 L258.53,220.40 L259.05,220.87 L259.56,221.36 L260.08,222.04 L260.59,222.95 L261.11,224.06 L261.62,225.30 L262.14,226.63 L262.65,228.01 L263.17,229.36 L263.68,230.72 L264.20,232.16 L264.72,233.69 L265.23,235.27 L265.75,236.90 L266.26,238.55 L266.78,240.19 L267.29,241.83 L267.81,243.52 L268.32,245.24 L268.84,246.99 L269.35,248.73 L269.87,250.44 L270.38,252.10 L270.90,253.71 L271.41,255.27 L271.93,256.81 L272.44,258.32 L272.96,259.79 L273.47,261.23 L273.99,262.64 L274.50,264.01 L275.02,265.34 L275.53,266.64 L276.05,267.90 L276.56,269.12 L277.08,270.31 L277.59,271.48 L278.11,272.61 L278.62,273.71 L279.14,274.79 L279.65,275.83 L280.17,276.85 L280.68,277.84 L281.20,278.80 L281.20,278.80Z" fill="#6272b8"/>
<path d="M263.30,278.80 L263.30,278.80 L263.68,278.36 L264.06,277.92 L264.44,277.49 L264.82,277.06 L265.19,276.64 L265.57,276.22 L265.95,275.80 L266.33,275.39 L266.71,274.98 L267.09,274.58 L267.47,274.18 L267.85,273.78 L268.22,273.39 L268.60,273.00 L268.98,272.62 L269.36,272.23 L269.74,271.83 L270.12,271.43 L270.50,271.03 L270.88,270.63 L271.25,270.23 L271.63,269.85 L272.01,269.48 L272.39,269.14 L272.77,268.81 L273.15,268.51 L273.53,268.24 L273.91,268.00 L274.28,267.78 L274.66,267.57 L275.04,267.37 L275.42,267.18 L275.80,267.00 L276.18,266.83 L276.56,266.67 L276.94,266.51 L277.32,266.37 L277.69,266.23 L278.07,266.10 L278.45,265.98 L278.83,265.87 L279.21,265.77 L279.59,265.67 L279.97,265.57 L280.35,265.47 L280.72,265.37 L281.10,265.28 L281.48,265.19 L281.86,265.11 L282.24,265.04 L282.62,264.98 L283.00,264.94 L283.38,264.91 L283.75,264.90 L284.13,264.91 L284.51,264.94 L284.89,264.99 L285.27,265.06 L285.65,265.14 L286.03,265.24 L286.41,265.35 L286.78,265.47 L287.16,265.60 L287.54,265.73 L287.92,265.88 L288.30,266.02 L288.68,266.17 L289.06,266.37 L289.44,266.59 L289.82,266.86 L290.19,267.15 L290.57,267.47 L290.95,267.81 L291.33,268.17 L291.71,268.53 L292.09,268.91 L292.47,269.28 L292.85,269.65 L293.22,270.02 L293.60,270.40 L293.98,270.80 L294.36,271.22 L294.74,271.64 L295.12,272.08 L295.50,272.53 L295.88,272.98 L296.25,273.43 L296.63,273.87 L297.01,274.31 L297.39,274.75 L297.77,275.19 L298.15,275.64 L298.53,276.08 L298.91,276.53 L299.28,276.98 L299.66,277.43 L300.04,277.89 L300.42,278.34 L300.80,278.80 L300.80,278.80Z" fill="#e9a2c2"/>
<path d="M229.80,278.80 L230.31,278.10 L230.83,277.33 L231.34,276.49 L231.85,275.59 L232.37,274.64 L232.88,273.64 L233.40,272.57 L233.91,271.39 L234.42,270.13 L234.94,268.80 L235.45,267.42 L235.96,266.02 L236.48,264.61 L236.99,263.20 L237.51,261.74 L238.02,260.25 L238.53,258.73 L239.05,257.19 L239.56,255.64 L240.07,254.08 L240.59,252.54 L241.10,250.98 L241.61,249.39 L242.13,247.80 L242.64,246.21 L243.16,244.63 L243.67,243.07 L244.18,241.55 L244.70,240.06 L245.21,238.57 L245.72,237.10 L246.24,235.65 L246.75,234.23 L247.26,232.85 L247.78,231.51 L248.29,230.20 L248.81,228.88 L249.32,227.56 L249.83,226.29 L250.35,225.09 L250.86,223.98 L251.37,222.99 L251.89,222.12 L252.40,221.30 L252.92,220.52 L253.43,219.83 L253.94,219.25 L254.46,218.83 L254.97,218.51 L255.48,218.21 L256.00,217.96 L256.51,217.78 L257.02,217.70 L257.54,217.73 L258.05,217.84 L258.57,218.02 L259.08,218.26 L259.59,218.54 L260.11,218.85 L260.62,219.18 L261.13,219.68 L261.65,220.36 L262.16,221.19 L262.67,222.13 L263.19,223.12 L263.70,224.14 L264.22,225.13 L264.73,226.15 L265.24,227.25 L265.76,228.40 L266.27,229.61 L266.78,230.83 L267.30,232.07 L267.81,233.29 L268.33,234.51 L268.84,235.76 L269.35,237.04 L269.87,238.32 L270.38,239.59 L270.89,240.86 L271.41,242.10 L271.92,243.32 L272.43,244.56 L272.95,245.81 L273.46,247.04 L273.98,248.24 L274.49,249.38 L275.00,250.45 L275.52,251.41 L276.03,252.31 L276.54,253.15 L277.06,253.95 L277.57,254.72 L278.08,255.45 L278.60,256.14 L279.11,256.82 L279.63,257.47 L280.14,258.10 L280.65,258.71 L281.17,259.31 L281.68,259.88 L282.19,260.43 L282.71,260.96 L283.22,261.46 L283.74,261.94 L284.25,262.39 L284.76,262.82 L285.28,263.22 L285.79,263.60 L286.30,263.98 L286.82,264.34 L287.33,264.72 L287.84,265.09 L288.36,265.49 L288.87,265.89 L289.39,266.30 L289.90,266.70 L290.41,267.10 L290.93,267.52 L291.44,267.94 L291.95,268.37 L292.47,268.82 L292.98,269.29 L293.49,269.78 L294.01,270.30 L294.52,270.85 L295.04,271.41 L295.55,271.99 L296.06,272.58 L296.58,273.18 L297.09,273.77 L297.60,274.37 L298.12,274.98 L298.63,275.59 L299.15,276.22 L299.66,276.85 L300.17,277.49 L300.69,278.14 L301.20,278.80" fill="none" stroke="#6a6cb8" stroke-width="0.85" stroke-linejoin="round" stroke-linecap="round" />
<line x1="256.40" y1="215.70" x2="256.40" y2="247.00" stroke="#000" stroke-width="1.25" stroke-dasharray="5 3.75"/>
<line x1="283.40" y1="246.20" x2="283.40" y2="277.00" stroke="#000" stroke-width="1.25" stroke-dasharray="5 3.75"/>
<text x="226.80" y="227.70" font-size="8.2" font-weight="normal" text-anchor="start" fill="#000" stroke="#000" stroke-width="0.12">130 <tspan font-family="DejaVu Serif, Noto Serif CJK SC, serif" font-size="7.4" dx="0.4" stroke-width="0.08">℃</tspan></text>
<text x="288.10" y="262.40" font-size="8.2" font-weight="normal" text-anchor="start" fill="#000" stroke="#000" stroke-width="0.12">200 <tspan font-family="DejaVu Serif, Noto Serif CJK SC, serif" font-size="7.4" dx="0.4" stroke-width="0.08">℃</tspan></text>
<path d="M231.50,345.60 L231.50,345.60 L232.09,344.89 L232.67,344.14 L233.26,343.33 L233.85,342.48 L234.43,341.59 L235.02,340.66 L235.61,339.70 L236.19,338.71 L236.78,337.66 L237.37,336.55 L237.96,335.38 L238.54,334.15 L239.13,332.89 L239.72,331.61 L240.30,330.29 L240.89,328.93 L241.48,327.53 L242.06,326.08 L242.65,324.60 L243.24,323.10 L243.82,321.57 L244.41,320.00 L245.00,318.38 L245.58,316.73 L246.17,315.07 L246.76,313.40 L247.35,311.75 L247.93,310.10 L248.52,308.41 L249.11,306.72 L249.69,305.04 L250.28,303.43 L250.87,301.88 L251.45,300.43 L252.04,298.98 L252.63,297.56 L253.21,296.20 L253.80,294.93 L254.39,293.78 L254.97,292.78 L255.56,291.85 L256.15,290.96 L256.74,290.13 L257.32,289.40 L257.91,288.80 L258.50,288.36 L259.08,288.04 L259.67,287.75 L260.26,287.51 L260.84,287.35 L261.43,287.30 L262.02,287.36 L262.60,287.50 L263.19,287.73 L263.78,288.01 L264.36,288.34 L264.95,288.70 L265.54,289.16 L266.13,289.83 L266.71,290.70 L267.30,291.71 L267.89,292.82 L268.47,293.96 L269.06,295.12 L269.65,296.39 L270.23,297.80 L270.82,299.31 L271.41,300.88 L271.99,302.47 L272.58,304.05 L273.17,305.63 L273.75,307.25 L274.34,308.89 L274.93,310.56 L275.52,312.21 L276.10,313.85 L276.69,315.47 L277.28,317.11 L277.86,318.75 L278.45,320.37 L279.04,321.96 L279.62,323.50 L280.21,324.97 L280.80,326.37 L281.38,327.72 L281.97,329.03 L282.56,330.32 L283.14,331.62 L283.73,332.94 L284.32,334.30 L284.91,335.69 L285.49,337.09 L286.08,338.46 L286.67,339.78 L287.25,341.03 L287.84,342.24 L288.43,343.40 L289.01,344.52 L289.60,345.60 L289.60,345.60Z" fill="#6272b8"/>
<path d="M275.40,345.60 L275.40,345.60 L275.90,344.97 L276.40,344.31 L276.90,343.65 L277.40,342.97 L277.89,342.27 L278.39,341.57 L278.89,340.85 L279.39,340.12 L279.89,339.38 L280.39,338.63 L280.89,337.87 L281.39,337.10 L281.89,336.30 L282.39,335.48 L282.88,334.65 L283.38,333.81 L283.88,332.96 L284.38,332.09 L284.88,331.20 L285.38,330.30 L285.88,329.38 L286.38,328.46 L286.88,327.54 L287.38,326.63 L287.87,325.73 L288.37,324.86 L288.87,324.00 L289.37,323.18 L289.87,322.37 L290.37,321.55 L290.87,320.73 L291.37,319.93 L291.87,319.15 L292.37,318.40 L292.86,317.70 L293.36,317.04 L293.86,316.45 L294.36,315.91 L294.86,315.38 L295.36,314.86 L295.86,314.39 L296.36,313.95 L296.86,313.57 L297.36,313.27 L297.85,313.04 L298.35,312.83 L298.85,312.64 L299.35,312.47 L299.85,312.33 L300.35,312.24 L300.85,312.20 L301.35,312.22 L301.85,312.30 L302.35,312.44 L302.84,312.61 L303.34,312.82 L303.84,313.06 L304.34,313.32 L304.84,313.59 L305.34,313.89 L305.84,314.27 L306.34,314.77 L306.84,315.36 L307.34,316.03 L307.83,316.76 L308.33,317.53 L308.83,318.32 L309.33,319.11 L309.83,319.89 L310.33,320.68 L310.83,321.51 L311.33,322.38 L311.83,323.29 L312.33,324.23 L312.82,325.18 L313.32,326.14 L313.82,327.10 L314.32,328.06 L314.82,329.02 L315.32,330.01 L315.82,331.03 L316.32,332.06 L316.82,333.09 L317.32,334.12 L317.81,335.12 L318.31,336.09 L318.81,337.02 L319.31,337.89 L319.81,338.72 L320.31,339.53 L320.81,340.31 L321.31,341.06 L321.81,341.79 L322.31,342.49 L322.80,343.17 L323.30,343.82 L323.80,344.44 L324.30,345.04 L324.80,345.60 L324.80,345.60Z" fill="#e9a2c2"/>
<path d="M231.10,345.60 L231.78,344.74 L232.45,343.82 L233.13,342.84 L233.81,341.80 L234.48,340.72 L235.16,339.60 L235.84,338.43 L236.52,337.20 L237.19,335.90 L237.87,334.52 L238.55,333.09 L239.22,331.61 L239.90,330.09 L240.58,328.51 L241.25,326.85 L241.93,325.15 L242.61,323.41 L243.29,321.64 L243.96,319.82 L244.64,317.93 L245.32,316.00 L245.99,314.06 L246.67,312.13 L247.35,310.22 L248.02,308.28 L248.70,306.33 L249.38,304.41 L250.06,302.56 L250.73,300.82 L251.41,299.13 L252.09,297.46 L252.76,295.85 L253.44,294.37 L254.12,293.05 L254.79,291.93 L255.47,290.86 L256.15,289.85 L256.83,288.97 L257.50,288.27 L258.18,287.81 L258.86,287.51 L259.53,287.25 L260.21,287.04 L260.89,286.88 L261.56,286.81 L262.24,286.83 L262.92,286.99 L263.59,287.26 L264.27,287.60 L264.95,287.97 L265.63,288.45 L266.30,289.11 L266.98,289.91 L267.66,290.78 L268.33,291.70 L269.01,292.76 L269.69,293.92 L270.36,295.18 L271.04,296.48 L271.72,297.80 L272.40,299.11 L273.07,300.43 L273.75,301.86 L274.43,303.32 L275.10,304.74 L275.78,306.03 L276.46,307.14 L277.13,308.14 L277.81,309.08 L278.49,309.94 L279.17,310.71 L279.84,311.38 L280.52,311.95 L281.20,312.53 L281.87,313.08 L282.55,313.58 L283.23,313.99 L283.90,314.27 L284.58,314.40 L285.26,314.39 L285.94,314.35 L286.61,314.29 L287.29,314.21 L287.97,314.11 L288.64,314.01 L289.32,313.90 L290.00,313.74 L290.67,313.51 L291.35,313.22 L292.03,312.91 L292.71,312.58 L293.38,312.27 L294.06,311.98 L294.74,311.75 L295.41,311.56 L296.09,311.36 L296.77,311.17 L297.44,310.99 L298.12,310.85 L298.80,310.75 L299.47,310.70 L300.15,310.73 L300.83,310.83 L301.51,310.99 L302.18,311.20 L302.86,311.43 L303.54,311.70 L304.21,312.12 L304.89,312.68 L305.57,313.37 L306.24,314.14 L306.92,314.96 L307.60,315.80 L308.28,316.64 L308.95,317.56 L309.63,318.55 L310.31,319.60 L310.98,320.72 L311.66,321.87 L312.34,323.06 L313.01,324.27 L313.69,325.59 L314.37,326.98 L315.05,328.42 L315.72,329.87 L316.40,331.30 L317.08,332.67 L317.75,333.97 L318.43,335.26 L319.11,336.54 L319.78,337.80 L320.46,339.01 L321.14,340.15 L321.82,341.22 L322.49,342.21 L323.17,343.15 L323.85,344.02 L324.52,344.84 L325.20,345.60" fill="none" stroke="#6a6cb8" stroke-width="0.85" stroke-linejoin="round" stroke-linecap="round" />
<path d="M265.50,288.20 L265.64,288.33 L265.78,288.47 L265.91,288.61 L266.05,288.76 L266.19,288.90 L266.33,289.05 L266.47,289.21 L266.61,289.37 L266.74,289.53 L266.88,289.69 L267.02,289.86 L267.16,290.03 L267.30,290.20 L267.43,290.37 L267.57,290.55 L267.71,290.73 L267.85,290.92 L267.99,291.10 L268.12,291.29 L268.26,291.48 L268.40,291.68 L268.54,291.87 L268.68,292.07 L268.82,292.27 L268.95,292.48 L269.09,292.68 L269.23,292.89 L269.37,293.10 L269.51,293.31 L269.64,293.52 L269.78,293.75 L269.92,293.98 L270.06,294.21 L270.20,294.45 L270.33,294.70 L270.47,294.95 L270.61,295.21 L270.75,295.47 L270.89,295.74 L271.03,296.01 L271.16,296.28 L271.30,296.56 L271.44,296.83 L271.58,297.11 L271.72,297.40 L271.85,297.68 L271.99,297.96 L272.13,298.25 L272.27,298.53 L272.41,298.82 L272.54,299.10 L272.68,299.38 L272.82,299.66 L272.96,299.94 L273.10,300.22 L273.24,300.49 L273.37,300.76 L273.51,301.03 L273.65,301.29 L273.79,301.56 L273.93,301.83 L274.06,302.11 L274.20,302.38 L274.34,302.66 L274.48,302.94 L274.62,303.23 L274.75,303.51 L274.89,303.79 L275.03,304.07 L275.17,304.35 L275.31,304.63 L275.45,304.91 L275.58,305.18 L275.72,305.46 L275.86,305.72 L276.00,305.99 L276.14,306.24 L276.27,306.49 L276.41,306.74 L276.55,306.98 L276.69,307.21 L276.83,307.44 L276.96,307.65 L277.10,307.86 L277.24,308.06 L277.38,308.25 L277.52,308.44 L277.66,308.63 L277.79,308.82 L277.93,309.01 L278.07,309.19 L278.21,309.37 L278.35,309.55 L278.48,309.72 L278.62,309.89 L278.76,310.06 L278.90,310.23 L279.04,310.39 L279.17,310.55 L279.31,310.71 L279.45,310.86 L279.59,311.01 L279.73,311.15 L279.87,311.29 L280.00,311.43 L280.14,311.57 L280.28,311.70 L280.42,311.82 L280.56,311.94 L280.69,312.06 L280.83,312.17 L280.97,312.28 L281.11,312.38 L281.25,312.48 L281.38,312.59 L281.52,312.69 L281.66,312.79 L281.80,312.88 L281.94,312.98 L282.08,313.07 L282.21,313.17 L282.35,313.26 L282.49,313.34 L282.63,313.43 L282.77,313.52 L282.90,313.60 L283.04,313.68 L283.18,313.75 L283.32,313.83 L283.46,313.90 L283.59,313.97 L283.73,314.03 L283.87,314.10 L284.01,314.15 L284.15,314.21 L284.29,314.26 L284.42,314.31 L284.56,314.36 L284.70,314.40" fill="none" stroke="#6a6cb8" stroke-width="0.6" stroke-linejoin="round" stroke-linecap="round" />
<line x1="263.30" y1="282.10" x2="263.30" y2="313.00" stroke="#000" stroke-width="1.25" stroke-dasharray="5 3.75"/>
<line x1="301.50" y1="297.60" x2="301.50" y2="329.00" stroke="#000" stroke-width="1.25" stroke-dasharray="5 3.75"/>
<text x="229.10" y="295.20" font-size="8.2" font-weight="normal" text-anchor="start" fill="#000" stroke="#000" stroke-width="0.12">145 <tspan font-family="DejaVu Serif, Noto Serif CJK SC, serif" font-size="7.4" dx="0.4" stroke-width="0.08">℃</tspan></text>
<text x="310.80" y="315.30" font-size="8.2" font-weight="normal" text-anchor="start" fill="#000" stroke="#000" stroke-width="0.12">260 <tspan font-family="DejaVu Serif, Noto Serif CJK SC, serif" font-size="7.4" dx="0.4" stroke-width="0.08">℃</tspan></text>
<rect x="213.6" y="212.4" width="165.9" height="133.4" fill="none" stroke="#000" stroke-width="1.3"/>
<line x1="213.60" y1="279.50" x2="379.50" y2="279.50" stroke="#000" stroke-width="1.4" />
<line x1="213.70" y1="345.80" x2="213.70" y2="348.40" stroke="#000" stroke-width="1.0" />
<line x1="230.28" y1="345.80" x2="230.28" y2="347.70" stroke="#000" stroke-width="1.0" />
<line x1="246.86" y1="345.80" x2="246.86" y2="348.40" stroke="#000" stroke-width="1.0" />
<line x1="263.44" y1="345.80" x2="263.44" y2="347.70" stroke="#000" stroke-width="1.0" />
<line x1="280.02" y1="345.80" x2="280.02" y2="348.40" stroke="#000" stroke-width="1.0" />
<line x1="296.60" y1="345.80" x2="296.60" y2="347.70" stroke="#000" stroke-width="1.0" />
<line x1="313.18" y1="345.80" x2="313.18" y2="348.40" stroke="#000" stroke-width="1.0" />
<line x1="329.76" y1="345.80" x2="329.76" y2="347.70" stroke="#000" stroke-width="1.0" />
<line x1="346.34" y1="345.80" x2="346.34" y2="348.40" stroke="#000" stroke-width="1.0" />
<line x1="362.92" y1="345.80" x2="362.92" y2="347.70" stroke="#000" stroke-width="1.0" />
<line x1="379.50" y1="345.80" x2="379.50" y2="348.40" stroke="#000" stroke-width="1.0" />
<text x="213.70" y="357.00" font-size="8.8" font-weight="normal" text-anchor="middle" fill="#000" stroke="#000" stroke-width="0.1">0</text>
<text x="246.86" y="357.00" font-size="8.8" font-weight="normal" text-anchor="middle" fill="#000" stroke="#000" stroke-width="0.1">100</text>
<text x="280.02" y="357.00" font-size="8.8" font-weight="normal" text-anchor="middle" fill="#000" stroke="#000" stroke-width="0.1">200</text>
<text x="313.18" y="357.00" font-size="8.8" font-weight="normal" text-anchor="middle" fill="#000" stroke="#000" stroke-width="0.1">300</text>
<text x="346.34" y="357.00" font-size="8.8" font-weight="normal" text-anchor="middle" fill="#000" stroke="#000" stroke-width="0.1">400</text>
<text x="379.50" y="357.00" font-size="8.8" font-weight="normal" text-anchor="middle" fill="#000" stroke="#000" stroke-width="0.1">500</text>
<text x="374.20" y="226.20" font-size="9.4" font-weight="bold" text-anchor="end" fill="#000" >w/ g-C<tspan font-size="6.3" dy="1.7">3</tspan><tspan dy="-1.7">N</tspan><tspan font-size="6.3" dy="1.7">4</tspan></text>
<text x="372.70" y="289.80" font-size="9.4" font-weight="bold" text-anchor="end" fill="#000" >w/ Pd-N<tspan font-size="6.3" dy="1.7">4</tspan><tspan dy="-1.7">/CN</tspan></text>
<text x="252.40" y="370.20" font-size="10.4" font-weight="normal" text-anchor="start" fill="#000" textLength="89.6" lengthAdjust="spacingAndGlyphs" stroke="#000" stroke-width="0.12">Temperature (<tspan font-size="7.6" dy="-4.3">o</tspan><tspan dy="4.3">C)</tspan></text>
<text x="215.00" y="202.60" font-size="9" font-weight="bold" text-anchor="start" fill="#000" textLength="100" lengthAdjust="spacingAndGlyphs">d) Alkene-TPD profiles</text>
<text x="397.70" y="6.80" font-size="9" font-weight="bold" text-anchor="start" fill="#000" textLength="217.8" lengthAdjust="spacingAndGlyphs">e) DFT calculation results of adsorption strength</text>
<text x="441.70" y="23.60" font-size="7.1" font-weight="normal" text-anchor="start" fill="#141414" stroke="#141414" stroke-width="0.2">Ph</text>
<text x="475.00" y="23.60" font-size="7.1" font-weight="normal" text-anchor="start" fill="#141414" stroke="#141414" stroke-width="0.2">Ph</text>
<line x1="456.60" y1="28.00" x2="468.60" y2="28.00" stroke="#555" stroke-width="0.8" />
<line x1="457.80" y1="26.30" x2="467.50" y2="26.30" stroke="#555" stroke-width="0.8" />
<line x1="450.80" y1="23.20" x2="456.60" y2="27.80" stroke="#4a4a4a" stroke-width="1.15" />
<line x1="468.60" y1="27.80" x2="474.00" y2="23.20" stroke="#4a4a4a" stroke-width="1.15" />
<line x1="456.60" y1="28.00" x2="451.60" y2="32.80" stroke="#4a4a4a" stroke-width="1.15" />
<line x1="468.60" y1="28.00" x2="474.00" y2="33.00" stroke="#4a4a4a" stroke-width="1.15" />
<text x="445.70" y="38.00" font-size="7.1" font-weight="normal" text-anchor="start" fill="#141414" stroke="#141414" stroke-width="0.2">H</text>
<text x="474.30" y="38.30" font-size="7.1" font-weight="normal" text-anchor="start" fill="#141414" stroke="#141414" stroke-width="0.2">H</text>
<line x1="463.70" y1="28.70" x2="463.70" y2="42.80" stroke="#666" stroke-width="0.7" />
<line x1="432.70" y1="48.00" x2="443.00" y2="48.00" stroke="#000" stroke-width="1.6" />
<text x="443.70" y="50.40" font-size="7.1" font-weight="normal" text-anchor="start" fill="#141414" stroke="#141414" stroke-width="0.2">N</text>
<text x="456.60" y="50.40" font-size="7.1" font-weight="normal" text-anchor="start" fill="#141414" stroke="#141414" stroke-width="0.2">Pd<tspan font-size="4.6" dy="-3.1" dx="0.3" letter-spacing="0.2" stroke-width="0.1">II</tspan></text>
<text x="477.00" y="50.40" font-size="7.1" font-weight="normal" text-anchor="start" fill="#141414" stroke="#141414" stroke-width="0.2">N</text>
<line x1="482.60" y1="48.00" x2="493.70" y2="48.00" stroke="#000" stroke-width="1.6" />
<line x1="449.35" y1="48.00" x2="456.10" y2="48.00" stroke="#666" stroke-width="0.7" />
<line x1="468.40" y1="48.00" x2="476.50" y2="48.00" stroke="#666" stroke-width="0.7" />
<text x="464.60" y="58.00" font-size="7.05" font-weight="bold" text-anchor="start" fill="#111" stroke="#111" stroke-width="0.3">Int-3a</text>
<line x1="464.50" y1="62.10" x2="483.60" y2="62.10" stroke="#111" stroke-width="1.7" />
<text x="474.40" y="72.20" font-size="7.2" font-weight="normal" text-anchor="middle" fill="#141414" stroke="#141414" stroke-width="0.2">7.2</text>
<text x="474.40" y="80.80" font-size="7.2" font-weight="normal" text-anchor="middle" fill="#141414" stroke="#141414" stroke-width="0.2">(7.9)</text>
<line x1="483.60" y1="62.30" x2="570.80" y2="90.60" stroke="#111" stroke-width="0.6" />
<line x1="483.60" y1="62.30" x2="513.80" y2="127.50" stroke="#111" stroke-width="0.6" />
<line x1="530.70" y1="127.50" x2="594.60" y2="139.50" stroke="#111" stroke-width="0.6" />
<line x1="490.50" y1="88.50" x2="498.30" y2="83.80" stroke="#111" stroke-width="0.6" />
<line x1="491.30" y1="90.20" x2="499.10" y2="85.50" stroke="#111" stroke-width="0.6" />
<text x="503.00" y="52.40" font-size="7.1" font-weight="normal" text-anchor="start" fill="#141414" stroke="#141414" stroke-width="0.2">Ph</text>
<text x="540.20" y="52.40" font-size="7.1" font-weight="normal" text-anchor="start" fill="#141414" stroke="#141414" stroke-width="0.2">Ph</text>
<line x1="511.50" y1="49.60" x2="539.60" y2="49.60" stroke="#333" stroke-width="0.6" />
<line x1="520.40" y1="47.90" x2="530.60" y2="47.90" stroke="#333" stroke-width="0.55" />
<line x1="520.40" y1="51.30" x2="530.60" y2="51.30" stroke="#333" stroke-width="0.55" />
<text x="524.30" y="62.70" font-size="7.05" font-weight="bold" text-anchor="start" fill="#111" stroke="#111" stroke-width="0.3">1</text>
<path d="M525.6,65.3 C525.6,72 529,77.5 534.5,78.2 C538.5,78.6 542,77 544.3,74.8" fill="none" stroke="#111" stroke-width="0.7"/>
<path d="M545.6,73.4 L541.8,74.6 L544.0,77.0 Z" fill="#111"/>
<text x="546.10" y="75.80" font-size="7.05" font-weight="bold" text-anchor="start" fill="#111" stroke="#111" stroke-width="0.3">2</text>
<text x="477.90" y="101.60" font-size="7.1" font-weight="normal" text-anchor="start" fill="#141414" stroke="#141414" stroke-width="0.2">H<tspan font-size="5.2" dy="1.6">2</tspan></text>
<path d="M488,99.6 C491,97 496.5,96.6 501,101.2" fill="none" stroke="#111" stroke-width="0.7"/>
<text x="557.30" y="60.70" font-size="7.1" font-weight="normal" text-anchor="start" fill="#141414" stroke="#141414" stroke-width="0.2">Ph</text>
<text x="594.30" y="60.70" font-size="7.1" font-weight="normal" text-anchor="start" fill="#141414" stroke="#141414" stroke-width="0.2">Ph</text>
<line x1="566.30" y1="58.00" x2="593.30" y2="58.00" stroke="#999" stroke-width="0.8" />
<line x1="575.00" y1="56.60" x2="585.70" y2="56.60" stroke="#aaa" stroke-width="1.1" />
<line x1="575.00" y1="58.00" x2="585.70" y2="58.00" stroke="#aaa" stroke-width="1.1" />
<line x1="575.00" y1="59.40" x2="585.70" y2="59.40" stroke="#aaa" stroke-width="1.1" />
<line x1="580.30" y1="60.20" x2="580.30" y2="68.20" stroke="#666" stroke-width="0.7" />
<line x1="555.40" y1="72.00" x2="567.00" y2="72.00" stroke="#000" stroke-width="1.6" />
<text x="567.90" y="74.40" font-size="7.1" font-weight="normal" text-anchor="start" fill="#141414" stroke="#141414" stroke-width="0.2">N</text>
<text x="577.70" y="74.40" font-size="7.1" font-weight="normal" text-anchor="start" fill="#141414" stroke="#141414" stroke-width="0.2">Pd<tspan font-size="4.6" dy="-3.1" dx="0.3" letter-spacing="0.2" stroke-width="0.1">II</tspan></text>
<text x="595.00" y="74.40" font-size="7.1" font-weight="normal" text-anchor="start" fill="#141414" stroke="#141414" stroke-width="0.2">N</text>
<line x1="600.70" y1="72.00" x2="611.30" y2="72.00" stroke="#000" stroke-width="1.6" />
<line x1="573.55" y1="72.00" x2="577.20" y2="72.00" stroke="#666" stroke-width="0.7" />
<line x1="589.50" y1="72.00" x2="594.50" y2="72.00" stroke="#666" stroke-width="0.7" />
<text x="573.00" y="86.60" font-size="7.05" font-weight="bold" text-anchor="start" fill="#111" stroke="#111" stroke-width="0.3">Int-4</text>
<line x1="570.60" y1="90.70" x2="589.30" y2="90.70" stroke="#111" stroke-width="1.7" />
<text x="580.00" y="100.50" font-size="7.2" font-weight="normal" text-anchor="middle" fill="#141414" stroke="#141414" stroke-width="0.2">-5.1</text>
<text x="580.00" y="108.70" font-size="7.2" font-weight="normal" text-anchor="middle" fill="#141414" stroke="#141414" stroke-width="0.2">(-3.5)</text>
<text x="515.60" y="123.70" font-size="7.05" font-weight="bold" text-anchor="start" fill="#111" stroke="#111" stroke-width="0.3">Int-5</text>
<line x1="513.50" y1="127.50" x2="530.70" y2="127.50" stroke="#111" stroke-width="1.7" />
<text x="523.30" y="137.60" font-size="7.2" font-weight="normal" text-anchor="middle" fill="#141414" stroke="#141414" stroke-width="0.2">-29.0</text>
<text x="522.80" y="145.60" font-size="7.2" font-weight="normal" text-anchor="middle" fill="#141414" stroke="#141414" stroke-width="0.2">(-27.2)</text>
<text x="549.00" y="147.50" font-size="7.05" font-weight="bold" text-anchor="start" fill="#111" stroke="#111" stroke-width="0.3">1</text>
<text x="572.20" y="154.80" font-size="7.05" font-weight="bold" text-anchor="start" fill="#111" stroke="#111" stroke-width="0.3">2</text>
<path d="M552.2,138.2 C555,134 560,132.6 564.5,134 C569.5,135.6 572.3,139.5 573.0,143.6" fill="none" stroke="#111" stroke-width="0.7"/>
<path d="M573.4,146.3 L571.3,142.9 L574.6,142.5 Z" fill="#111"/>
<text x="601.10" y="104.40" font-size="7.1" font-weight="normal" text-anchor="start" fill="#141414" stroke="#141414" stroke-width="0.2">Ph</text>
<text x="637.10" y="110.70" font-size="7.1" font-weight="normal" text-anchor="start" fill="#141414" stroke="#141414" stroke-width="0.2">Ph</text>
<line x1="610.70" y1="103.20" x2="617.60" y2="107.80" stroke="#444" stroke-width="1.1" />
<line x1="617.00" y1="108.20" x2="636.20" y2="108.20" stroke="#333" stroke-width="0.7" />
<line x1="618.20" y1="106.50" x2="628.70" y2="106.50" stroke="#333" stroke-width="0.65" />
<line x1="617.30" y1="110.10" x2="627.30" y2="110.10" stroke="#333" stroke-width="0.65" />
<text x="608.30" y="114.70" font-size="7.1" font-weight="normal" text-anchor="start" fill="#141414" stroke="#141414" stroke-width="0.2">H</text>
<line x1="612.70" y1="115.30" x2="615.30" y2="118.60" stroke="#444" stroke-width="0.7" />
<line x1="618.70" y1="118.80" x2="624.00" y2="110.60" stroke="#555" stroke-width="1.1" />
<line x1="585.30" y1="122.00" x2="595.70" y2="122.00" stroke="#000" stroke-width="1.6" />
<text x="596.70" y="124.40" font-size="7.1" font-weight="normal" text-anchor="start" fill="#141414" stroke="#141414" stroke-width="0.2">NH</text>
<text x="614.00" y="124.40" font-size="7.1" font-weight="normal" text-anchor="start" fill="#141414" stroke="#141414" stroke-width="0.2">Pd<tspan font-size="4.6" dy="-3.1" dx="0.3" letter-spacing="0.2" stroke-width="0.1">II</tspan></text>
<text x="630.00" y="124.40" font-size="7.1" font-weight="normal" text-anchor="start" fill="#141414" stroke="#141414" stroke-width="0.2">N</text>
<line x1="635.70" y1="122.00" x2="646.00" y2="122.00" stroke="#000" stroke-width="1.6" />
<line x1="625.80" y1="122.00" x2="629.50" y2="122.00" stroke="#666" stroke-width="0.7" />
<text x="595.60" y="135.60" font-size="7.05" font-weight="bold" text-anchor="start" fill="#111" stroke="#111" stroke-width="0.3">Int-1</text>
<line x1="594.50" y1="139.50" x2="612.20" y2="139.50" stroke="#111" stroke-width="1.7" />
<text x="603.30" y="148.90" font-size="7.2" font-weight="normal" text-anchor="middle" fill="#141414" stroke="#141414" stroke-width="0.2">-34.2</text>
<text x="603.10" y="157.60" font-size="7.2" font-weight="normal" text-anchor="middle" fill="#141414" stroke="#141414" stroke-width="0.2">(-33.6)</text>
<text x="442.00" y="115.60" font-size="7.1" font-weight="normal" text-anchor="start" fill="#141414" stroke="#141414" stroke-width="0.2">Ph</text>
<text x="475.20" y="115.60" font-size="7.1" font-weight="normal" text-anchor="start" fill="#141414" stroke="#141414" stroke-width="0.2">Ph</text>
<line x1="457.00" y1="122.50" x2="469.20" y2="122.50" stroke="#555" stroke-width="0.8" />
<line x1="458.00" y1="120.50" x2="468.20" y2="120.50" stroke="#555" stroke-width="0.8" />
<line x1="451.00" y1="116.30" x2="457.00" y2="122.20" stroke="#4a4a4a" stroke-width="1.15" />
<line x1="469.20" y1="122.20" x2="475.00" y2="116.30" stroke="#4a4a4a" stroke-width="1.15" />
<line x1="457.00" y1="122.50" x2="451.50" y2="125.80" stroke="#4a4a4a" stroke-width="1.15" />
<line x1="469.20" y1="122.50" x2="474.40" y2="126.00" stroke="#4a4a4a" stroke-width="1.15" />
<text x="446.10" y="129.50" font-size="7.1" font-weight="normal" text-anchor="start" fill="#141414" stroke="#141414" stroke-width="0.2">H</text>
<text x="474.90" y="130.30" font-size="7.1" font-weight="normal" text-anchor="start" fill="#141414" stroke="#141414" stroke-width="0.2">H</text>
<text x="451.00" y="134.40" font-size="7.1" font-weight="normal" text-anchor="start" fill="#141414" stroke="#141414" stroke-width="0.2">H</text>
<line x1="456.20" y1="134.40" x2="460.60" y2="139.00" stroke="#555" stroke-width="0.8" />
<line x1="463.40" y1="123.00" x2="463.40" y2="139.00" stroke="#666" stroke-width="0.7" />
<line x1="431.90" y1="141.80" x2="442.30" y2="141.80" stroke="#000" stroke-width="1.6" />
<text x="443.20" y="144.20" font-size="7.1" font-weight="normal" text-anchor="start" fill="#141414" stroke="#141414" stroke-width="0.2">NH</text>
<text x="461.00" y="144.20" font-size="7.1" font-weight="normal" text-anchor="start" fill="#141414" stroke="#141414" stroke-width="0.2">Pd<tspan font-size="4.6" dy="-3.1" dx="0.3" letter-spacing="0.2" stroke-width="0.1">II</tspan></text>
<text x="480.10" y="144.20" font-size="7.1" font-weight="normal" text-anchor="start" fill="#141414" stroke="#141414" stroke-width="0.2">N</text>
<line x1="485.60" y1="141.80" x2="496.30" y2="141.80" stroke="#000" stroke-width="1.6" />
<line x1="472.80" y1="141.80" x2="479.60" y2="141.80" stroke="#666" stroke-width="0.7" />
<text x="455.30" y="158.50" font-size="7.05" font-weight="bold" text-anchor="start" fill="#111" stroke="#111" stroke-width="0.3">Int-5</text>
<text x="396.30" y="202.60" font-size="9" font-weight="bold" text-anchor="start" fill="#000" textLength="99" lengthAdjust="spacingAndGlyphs">f) Product purification</text>
<path d="M415.05,228.00 L409.62,237.40 L398.77,237.40 L393.35,228.00 L398.77,218.60 L409.62,218.60Z" fill="none" stroke="#2e2e2e" stroke-width="0.85" stroke-linejoin="round"/>
<line x1="395.63" y1="227.56" x2="399.53" y2="220.79" stroke="#2e2e2e" stroke-width="0.85" />
<line x1="408.11" y1="235.65" x2="400.29" y2="235.65" stroke="#2e2e2e" stroke-width="0.85" />
<line x1="408.87" y1="220.79" x2="412.77" y2="227.56" stroke="#2e2e2e" stroke-width="0.85" />
<path d="M468.35,228.00 L462.93,237.40 L452.07,237.40 L446.65,228.00 L452.07,218.60 L462.93,218.60Z" fill="none" stroke="#2e2e2e" stroke-width="0.85" stroke-linejoin="round"/>
<line x1="453.59" y1="220.35" x2="461.41" y2="220.35" stroke="#2e2e2e" stroke-width="0.85" />
<line x1="452.83" y1="235.21" x2="448.93" y2="228.44" stroke="#2e2e2e" stroke-width="0.85" />
<line x1="466.07" y1="228.44" x2="462.17" y2="235.21" stroke="#2e2e2e" stroke-width="0.85" />
<line x1="415.05" y1="228.00" x2="446.65" y2="228.00" stroke="#777" stroke-width="0.65" />
<line x1="425.20" y1="226.15" x2="436.10" y2="226.15" stroke="#f8a8ac" stroke-width="1.35" />
<line x1="425.20" y1="228.00" x2="436.10" y2="228.00" stroke="#f8a8ac" stroke-width="1.35" />
<line x1="425.20" y1="229.85" x2="436.10" y2="229.85" stroke="#f8a8ac" stroke-width="1.35" />
<text x="430.70" y="252.60" font-size="7.3" font-weight="bold" text-anchor="middle" fill="#111" >1</text>
<text x="430.70" y="261.80" font-size="7.35" font-weight="normal" text-anchor="middle" fill="#111" >0.005 mmol</text>
<text x="430.70" y="283.90" font-size="5.6" font-weight="bold" text-anchor="middle" fill="#111" >+</text>
<path d="M425.75,306.50 L420.32,315.90 L409.47,315.90 L404.05,306.50 L409.47,297.10 L420.32,297.10Z" fill="none" stroke="#2e2e2e" stroke-width="0.85" stroke-linejoin="round"/>
<line x1="410.99" y1="298.85" x2="418.81" y2="298.85" stroke="#2e2e2e" stroke-width="0.85" />
<line x1="410.23" y1="313.71" x2="406.33" y2="306.94" stroke="#2e2e2e" stroke-width="0.85" />
<line x1="423.47" y1="306.94" x2="419.57" y2="313.71" stroke="#2e2e2e" stroke-width="0.85" />
<path d="M457.35,306.50 L451.93,315.90 L441.07,315.90 L435.65,306.50 L441.07,297.10 L451.93,297.10Z" fill="none" stroke="#2e2e2e" stroke-width="0.85" stroke-linejoin="round"/>
<line x1="437.93" y1="306.06" x2="441.83" y2="299.29" stroke="#2e2e2e" stroke-width="0.85" />
<line x1="450.41" y1="314.15" x2="442.59" y2="314.15" stroke="#2e2e2e" stroke-width="0.85" />
<line x1="451.17" y1="299.29" x2="455.07" y2="306.06" stroke="#2e2e2e" stroke-width="0.85" />
<line x1="420.32" y1="315.90" x2="425.50" y2="324.00" stroke="#2e2e2e" stroke-width="0.85" />
<line x1="435.80" y1="324.00" x2="441.07" y2="315.90" stroke="#2e2e2e" stroke-width="0.85" />
<line x1="425.30" y1="323.60" x2="436.00" y2="323.60" stroke="#f8a8ac" stroke-width="2.9" />
<text x="430.70" y="342.60" font-size="7.3" font-weight="bold" text-anchor="middle" fill="#111" >2</text>
<text x="430.70" y="351.80" font-size="7.35" font-weight="normal" text-anchor="middle" fill="#111" >0.095 mmol</text>
<line x1="473.80" y1="282.40" x2="603.00" y2="282.40" stroke="#3a3a3a" stroke-width="0.6" />
<line x1="561.30" y1="216.90" x2="561.30" y2="347.30" stroke="#3a3a3a" stroke-width="0.6" />
<line x1="561.00" y1="216.90" x2="603.00" y2="216.90" stroke="#3a3a3a" stroke-width="0.6" />
<line x1="561.00" y1="347.30" x2="603.00" y2="347.30" stroke="#3a3a3a" stroke-width="0.6" />
<path d="M606.4,216.9 L601.5,215.3 L601.5,218.5 Z" fill="#000"/>
<path d="M606.4,282.4 L601.5,280.79999999999995 L601.5,284.0 Z" fill="#000"/>
<path d="M606.4,347.3 L601.5,345.7 L601.5,348.90000000000003 Z" fill="#000"/>
<text x="481.60" y="276.60" font-size="7.4" font-weight="bold" text-anchor="start" fill="#111" textLength="70.8" lengthAdjust="spacingAndGlyphs">standard conditions</text>
<path d="M632.05,216.50 L626.62,225.90 L615.78,225.90 L610.35,216.50 L615.78,207.10 L626.62,207.10Z" fill="none" stroke="#2e2e2e" stroke-width="0.85" stroke-linejoin="round"/>
<line x1="612.63" y1="216.06" x2="616.53" y2="209.29" stroke="#2e2e2e" stroke-width="0.85" />
<line x1="625.11" y1="224.15" x2="617.29" y2="224.15" stroke="#2e2e2e" stroke-width="0.85" />
<line x1="625.87" y1="209.29" x2="629.77" y2="216.06" stroke="#2e2e2e" stroke-width="0.85" />
<path d="M685.15,216.50 L679.72,225.90 L668.88,225.90 L663.45,216.50 L668.88,207.10 L679.72,207.10Z" fill="none" stroke="#2e2e2e" stroke-width="0.85" stroke-linejoin="round"/>
<line x1="670.39" y1="208.85" x2="678.21" y2="208.85" stroke="#2e2e2e" stroke-width="0.85" />
<line x1="669.63" y1="223.71" x2="665.73" y2="216.94" stroke="#2e2e2e" stroke-width="0.85" />
<line x1="682.87" y1="216.94" x2="678.97" y2="223.71" stroke="#2e2e2e" stroke-width="0.85" />
<line x1="632.05" y1="216.50" x2="663.45" y2="216.50" stroke="#2e2e2e" stroke-width="0.85" />
<line x1="642.10" y1="214.35" x2="653.00" y2="214.35" stroke="#e8343a" stroke-width="0.7" />
<line x1="642.10" y1="216.50" x2="653.00" y2="216.50" stroke="#e8343a" stroke-width="0.7" />
<line x1="642.10" y1="218.65" x2="653.00" y2="218.65" stroke="#e8343a" stroke-width="0.7" />
<text x="647.70" y="237.70" font-size="7.3" font-weight="normal" text-anchor="middle" fill="#111" ><tspan font-weight="bold" fill="#111">1</tspan>, n.d.</text>
<path d="M642.75,278.00 L637.32,287.40 L626.48,287.40 L621.05,278.00 L626.48,268.60 L637.32,268.60Z" fill="none" stroke="#2e2e2e" stroke-width="0.85" stroke-linejoin="round"/>
<line x1="627.99" y1="270.35" x2="635.81" y2="270.35" stroke="#2e2e2e" stroke-width="0.85" />
<line x1="627.23" y1="285.21" x2="623.33" y2="278.44" stroke="#2e2e2e" stroke-width="0.85" />
<line x1="640.47" y1="278.44" x2="636.57" y2="285.21" stroke="#2e2e2e" stroke-width="0.85" />
<path d="M674.45,278.00 L669.02,287.40 L658.18,287.40 L652.75,278.00 L658.18,268.60 L669.02,268.60Z" fill="none" stroke="#2e2e2e" stroke-width="0.85" stroke-linejoin="round"/>
<line x1="655.03" y1="277.56" x2="658.93" y2="270.79" stroke="#2e2e2e" stroke-width="0.85" />
<line x1="667.51" y1="285.65" x2="659.69" y2="285.65" stroke="#2e2e2e" stroke-width="0.85" />
<line x1="668.27" y1="270.79" x2="672.17" y2="277.56" stroke="#2e2e2e" stroke-width="0.85" />
<line x1="637.32" y1="287.40" x2="642.40" y2="296.10" stroke="#2e2e2e" stroke-width="0.85" />
<line x1="653.00" y1="296.10" x2="658.18" y2="287.40" stroke="#2e2e2e" stroke-width="0.85" />
<line x1="642.40" y1="296.10" x2="653.00" y2="296.10" stroke="#e8343a" stroke-width="0.7" />
<line x1="643.60" y1="294.40" x2="651.80" y2="294.40" stroke="#e8343a" stroke-width="0.7" />
<text x="647.70" y="315.00" font-size="7.4" font-weight="normal" text-anchor="middle" fill="#111" ><tspan font-weight="bold" fill="#111">2</tspan>, 0.10 mmol</text>
<path d="M634.65,346.50 L629.22,355.90 L618.38,355.90 L612.95,346.50 L618.38,337.10 L629.22,337.10Z" fill="none" stroke="#2e2e2e" stroke-width="0.85" stroke-linejoin="round"/>
<line x1="615.23" y1="346.06" x2="619.13" y2="339.29" stroke="#2e2e2e" stroke-width="0.85" />
<line x1="627.71" y1="354.15" x2="619.89" y2="354.15" stroke="#2e2e2e" stroke-width="0.85" />
<line x1="628.47" y1="339.29" x2="632.37" y2="346.06" stroke="#2e2e2e" stroke-width="0.85" />
<path d="M682.95,355.70 L677.52,365.10 L666.68,365.10 L661.25,355.70 L666.68,346.30 L677.52,346.30Z" fill="none" stroke="#2e2e2e" stroke-width="0.85" stroke-linejoin="round"/>
<line x1="668.19" y1="348.05" x2="676.01" y2="348.05" stroke="#2e2e2e" stroke-width="0.85" />
<line x1="667.43" y1="362.91" x2="663.53" y2="356.14" stroke="#2e2e2e" stroke-width="0.85" />
<line x1="680.67" y1="356.14" x2="676.77" y2="362.91" stroke="#2e2e2e" stroke-width="0.85" />
<line x1="634.65" y1="346.50" x2="644.60" y2="346.40" stroke="#2e2e2e" stroke-width="0.85" />
<line x1="644.60" y1="346.40" x2="650.30" y2="355.80" stroke="#e8343a" stroke-width="0.7" />
<line x1="650.30" y1="355.80" x2="661.25" y2="355.70" stroke="#2e2e2e" stroke-width="0.85" />
<text x="647.40" y="373.30" font-size="7.3" font-weight="normal" text-anchor="middle" fill="#111" ><tspan font-weight="bold" fill="#111">4</tspan>, n.d.</text>
</svg>
</body>
</html>
